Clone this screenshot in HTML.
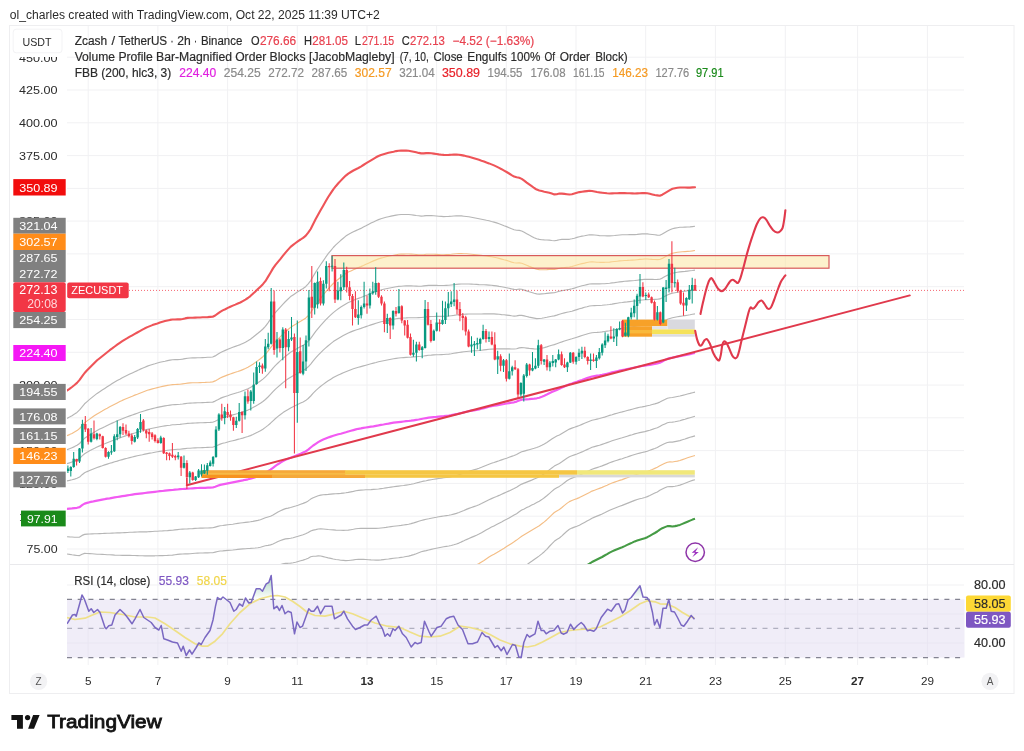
<!DOCTYPE html>
<html><head><meta charset="utf-8"><title>ZECUSDT chart</title><style>html,body{margin:0;padding:0;background:#fff}svg{display:block;will-change:transform}</style></head><body>
<svg width="1024" height="751" viewBox="0 0 1024 751" font-family="Liberation Sans, sans-serif">
<defs><linearGradient id="obg" x1="0" y1="556" x2="0" y2="599.4" gradientUnits="userSpaceOnUse"><stop offset="0" stop-color="#5fae84" stop-opacity="0.95"/><stop offset="1" stop-color="#5fae84" stop-opacity="0"/></linearGradient><clipPath id="cm"><rect x="67" y="26" width="897" height="538"/></clipPath><clipPath id="cr"><rect x="67" y="565" width="897" height="100"/></clipPath></defs>
<rect width="1024" height="751" fill="#fff"/>
<text x="9.8" y="19" font-size="12" fill="#2b2b2b" textLength="370" lengthAdjust="spacingAndGlyphs">ol_charles created with TradingView.com, Oct 22, 2025 11:39 UTC+2</text>
<rect x="9.5" y="25.5" width="1004.5" height="668" fill="#fff" stroke="#eeeef0" stroke-width="1"/>
<path d="M88.2,26V665 M157.9,26V665 M227.6,26V665 M297.3,26V665 M367.0,26V665 M436.6,26V665 M506.3,26V665 M576.0,26V665 M645.7,26V665 M715.4,26V665 M785.3,26V665 M857.6,26V665 M927.4,26V665 M67,57.2H964 M67,90.0H964 M67,122.8H964 M67,155.6H964 M67,188.4H964 M67,221.1H964 M67,253.9H964 M67,286.7H964 M67,319.5H964 M67,352.3H964 M67,385.1H964 M67,417.8H964 M67,450.6H964 M67,483.4H964 M67,516.2H964 M67,549.0H964 M67,585H964 M67,614H964 M67,643H964" stroke="#f1f1f3" stroke-width="1" fill="none"/>
<path d="M10,564.5H1014" stroke="#e9e9ec" stroke-width="1"/>
<g clip-path="url(#cm)">
<path d="M67.0,418.4 L69.5,417.1 L72.0,415.7 L74.5,414.1 L77.0,412.4 L79.6,409.9 L82.1,406.8 L84.6,403.8 L87.1,401.6 L89.6,399.4 L92.1,397.4 L94.6,395.4 L97.1,393.4 L99.7,391.7 L102.2,390.0 L104.7,388.4 L107.2,386.8 L109.7,385.2 L112.2,383.6 L114.7,382.1 L117.2,380.6 L119.8,379.2 L122.3,377.7 L124.8,376.5 L127.3,375.3 L129.8,374.1 L132.3,372.9 L134.8,371.7 L137.3,370.6 L139.8,369.4 L142.4,368.3 L144.9,367.2 L147.4,366.1 L149.9,365.3 L152.4,364.5 L154.9,363.8 L157.4,363.0 L159.9,362.3 L162.5,361.7 L165.0,361.2 L167.5,360.6 L170.0,360.1 L172.5,359.7 L175.0,359.6 L177.5,359.6 L180.0,359.5 L182.6,359.1 L185.1,358.6 L187.6,358.2 L190.1,358.0 L192.6,357.9 L195.1,357.9 L197.6,357.8 L200.1,357.7 L202.6,357.6 L205.2,357.5 L207.7,357.3 L210.2,357.2 L212.7,357.0 L215.2,355.9 L217.7,354.3 L220.2,352.8 L222.7,351.5 L225.3,350.4 L227.8,349.3 L230.3,348.3 L232.8,347.3 L235.3,346.4 L237.8,345.5 L240.3,344.6 L242.8,343.4 L245.4,342.2 L247.9,340.8 L250.4,339.2 L252.9,337.3 L255.4,335.3 L257.9,333.3 L260.4,331.2 L262.9,329.0 L265.4,326.3 L268.0,322.8 L270.5,319.2 L273.0,315.5 L275.5,312.3 L278.0,309.6 L280.5,306.9 L283.0,304.2 L285.5,301.5 L288.1,299.0 L290.6,296.6 L293.1,294.9 L295.6,293.2 L298.1,291.6 L300.6,290.0 L303.1,288.5 L305.6,286.7 L308.2,283.9 L310.7,280.6 L313.2,276.3 L315.7,272.1 L318.2,268.2 L320.7,264.5 L323.2,260.9 L325.7,257.2 L328.2,253.7 L330.8,250.6 L333.3,247.5 L335.8,244.9 L338.3,242.6 L340.8,240.3 L343.3,238.2 L345.8,236.1 L348.3,234.4 L350.9,233.1 L353.4,231.7 L355.9,230.6 L358.4,229.5 L360.9,228.4 L363.4,227.1 L365.9,225.8 L368.4,224.4 L371.0,223.1 L373.5,221.9 L376.0,220.7 L378.5,219.6 L381.0,218.7 L383.5,218.0 L386.0,217.3 L388.5,216.7 L391.0,216.1 L393.6,215.6 L396.1,215.1 L398.6,214.7 L401.1,214.5 L403.6,214.5 L406.1,214.5 L408.6,214.5 L411.1,214.8 L413.7,215.1 L416.2,215.5 L418.7,215.8 L421.2,216.1 L423.7,215.9 L426.2,215.6 L428.7,215.5 L431.2,215.6 L433.8,215.8 L436.3,216.0 L438.8,216.3 L441.3,216.4 L443.8,216.6 L446.3,216.5 L448.8,216.4 L451.3,216.2 L453.8,216.0 L456.4,215.8 L458.9,215.8 L461.4,215.9 L463.9,216.2 L466.4,216.5 L468.9,216.8 L471.4,217.2 L473.9,217.7 L476.5,218.2 L479.0,218.7 L481.5,219.2 L484.0,219.7 L486.5,220.3 L489.0,220.8 L491.5,221.5 L494.0,222.1 L496.6,222.9 L499.1,223.8 L501.6,224.7 L504.1,225.7 L506.6,226.6 L509.1,227.7 L511.6,228.8 L514.1,229.8 L516.6,230.3 L519.2,230.4 L521.7,231.0 L524.2,232.3 L526.7,233.7 L529.2,235.1 L531.7,236.4 L534.2,237.7 L536.7,238.8 L539.3,239.4 L541.8,239.7 L544.3,239.9 L546.8,240.0 L549.3,240.1 L551.8,240.5 L554.3,240.8 L556.8,240.4 L559.4,239.7 L561.9,239.4 L564.4,239.4 L566.9,239.3 L569.4,239.3 L571.9,238.8 L574.4,238.2 L576.9,237.4 L579.4,236.7 L582.0,236.1 L584.5,235.7 L587.0,235.2 L589.5,234.8 L592.0,234.8 L594.5,235.0 L597.0,235.3 L599.5,235.6 L602.1,235.7 L604.6,235.8 L607.1,235.9 L609.6,235.9 L612.1,235.7 L614.6,235.5 L617.1,235.2 L619.6,235.0 L622.2,234.8 L624.7,234.7 L627.2,234.7 L629.7,234.6 L632.2,234.6 L634.7,234.6 L637.2,234.4 L639.7,234.1 L642.2,233.9 L644.8,233.7 L647.3,233.9 L649.8,234.2 L652.3,234.5 L654.8,234.8 L657.3,235.1 L659.8,235.2 L662.3,234.0 L664.9,232.5 L667.4,231.1 L669.9,229.8 L672.4,228.7 L674.9,228.1 L677.4,227.7 L679.9,227.3 L682.4,227.2 L685.0,227.1 L687.5,227.0 L690.0,226.9 L692.5,226.6 L695.0,226.3" stroke="#b6b6b6" stroke-width="1.15" fill="none" stroke-linejoin="round"/>
<path d="M67.0,435.7 L69.5,434.6 L72.0,433.4 L74.5,432.0 L77.0,430.6 L79.6,428.5 L82.1,425.6 L84.6,422.9 L87.1,420.9 L89.6,419.1 L92.1,417.3 L94.6,415.6 L97.1,413.9 L99.7,412.4 L102.2,411.0 L104.7,409.5 L107.2,408.2 L109.7,406.8 L112.2,405.5 L114.7,404.2 L117.2,402.9 L119.8,401.6 L122.3,400.4 L124.8,399.3 L127.3,398.2 L129.8,397.2 L132.3,396.2 L134.8,395.1 L137.3,394.2 L139.8,393.2 L142.4,392.2 L144.9,391.2 L147.4,390.3 L149.9,389.6 L152.4,388.9 L154.9,388.2 L157.4,387.6 L159.9,387.0 L162.5,386.4 L165.0,385.9 L167.5,385.4 L170.0,385.0 L172.5,384.6 L175.0,384.5 L177.5,384.4 L180.0,384.3 L182.6,383.9 L185.1,383.5 L187.6,383.1 L190.1,382.9 L192.6,382.8 L195.1,382.7 L197.6,382.7 L200.1,382.6 L202.6,382.5 L205.2,382.4 L207.7,382.2 L210.2,382.1 L212.7,381.9 L215.2,380.9 L217.7,379.5 L220.2,378.0 L222.7,376.9 L225.3,375.9 L227.8,374.9 L230.3,374.0 L232.8,373.1 L235.3,372.3 L237.8,371.5 L240.3,370.6 L242.8,369.6 L245.4,368.5 L247.9,367.3 L250.4,365.8 L252.9,364.2 L255.4,362.4 L257.9,360.6 L260.4,358.8 L262.9,356.7 L265.4,354.3 L268.0,351.1 L270.5,347.9 L273.0,344.6 L275.5,341.6 L278.0,339.1 L280.5,336.7 L283.0,334.2 L285.5,331.7 L288.1,329.5 L290.6,327.4 L293.1,325.8 L295.6,324.3 L298.1,322.7 L300.6,321.3 L303.1,319.8 L305.6,318.2 L308.2,315.6 L310.7,312.5 L313.2,308.6 L315.7,304.9 L318.2,301.5 L320.7,298.2 L323.2,295.0 L325.7,291.9 L328.2,288.9 L330.8,286.1 L333.3,283.5 L335.8,281.2 L338.3,279.2 L340.8,277.3 L343.3,275.4 L345.8,273.6 L348.3,272.1 L350.9,270.9 L353.4,269.7 L355.9,268.6 L358.4,267.6 L360.9,266.6 L363.4,265.5 L365.9,264.3 L368.4,263.2 L371.0,262.0 L373.5,260.9 L376.0,259.9 L378.5,258.9 L381.0,258.1 L383.5,257.5 L386.0,256.8 L388.5,256.2 L391.0,255.7 L393.6,255.2 L396.1,254.7 L398.6,254.3 L401.1,254.1 L403.6,254.1 L406.1,254.0 L408.6,254.0 L411.1,254.1 L413.7,254.3 L416.2,254.5 L418.7,254.7 L421.2,254.9 L423.7,254.7 L426.2,254.3 L428.7,254.2 L431.2,254.2 L433.8,254.3 L436.3,254.4 L438.8,254.5 L441.3,254.7 L443.8,254.7 L446.3,254.6 L448.8,254.5 L451.3,254.3 L453.8,254.0 L456.4,253.7 L458.9,253.6 L461.4,253.6 L463.9,253.7 L466.4,253.8 L468.9,254.0 L471.4,254.2 L473.9,254.5 L476.5,254.8 L479.0,255.1 L481.5,255.4 L484.0,255.7 L486.5,256.0 L489.0,256.4 L491.5,256.8 L494.0,257.2 L496.6,257.8 L499.1,258.4 L501.6,259.1 L504.1,259.8 L506.6,260.4 L509.1,261.2 L511.6,262.1 L514.1,262.8 L516.6,263.0 L519.2,262.9 L521.7,263.3 L524.2,264.2 L526.7,265.3 L529.2,266.4 L531.7,267.4 L534.2,268.4 L536.7,269.3 L539.3,269.6 L541.8,269.7 L544.3,269.7 L546.8,269.6 L549.3,269.4 L551.8,269.4 L554.3,269.5 L556.8,268.9 L559.4,268.2 L561.9,267.7 L564.4,267.5 L566.9,267.2 L569.4,267.0 L571.9,266.5 L574.4,265.8 L576.9,265.0 L579.4,264.2 L582.0,263.6 L584.5,263.1 L587.0,262.5 L589.5,262.0 L592.0,261.9 L594.5,262.0 L597.0,262.2 L599.5,262.3 L602.1,262.3 L604.6,262.3 L607.1,262.2 L609.6,262.1 L612.1,261.8 L614.6,261.5 L617.1,261.2 L619.6,260.9 L622.2,260.7 L624.7,260.5 L627.2,260.4 L629.7,260.2 L632.2,260.1 L634.7,260.0 L637.2,259.7 L639.7,259.4 L642.2,259.2 L644.8,259.0 L647.3,259.0 L649.8,259.2 L652.3,259.4 L654.8,259.5 L657.3,259.6 L659.8,259.5 L662.3,258.4 L664.9,256.9 L667.4,255.5 L669.9,254.3 L672.4,253.3 L674.9,252.8 L677.4,252.3 L679.9,252.0 L682.4,251.8 L685.0,251.6 L687.5,251.4 L690.0,251.2 L692.5,250.9 L695.0,250.5" stroke="#f4be86" stroke-width="1.15" fill="none" stroke-linejoin="round"/>
<path d="M67.0,449.6 L69.5,448.8 L72.0,447.7 L74.5,446.6 L77.0,445.3 L79.6,443.5 L82.1,440.7 L84.6,438.3 L87.1,436.6 L89.6,435.0 L92.1,433.4 L94.6,431.9 L97.1,430.5 L99.7,429.1 L102.2,427.9 L104.7,426.7 L107.2,425.4 L109.7,424.2 L112.2,423.1 L114.7,422.0 L117.2,420.8 L119.8,419.7 L122.3,418.7 L124.8,417.7 L127.3,416.8 L129.8,415.9 L132.3,415.0 L134.8,414.1 L137.3,413.2 L139.8,412.3 L142.4,411.5 L144.9,410.7 L147.4,409.9 L149.9,409.2 L152.4,408.6 L154.9,408.0 L157.4,407.4 L159.9,406.9 L162.5,406.4 L165.0,405.9 L167.5,405.5 L170.0,405.1 L172.5,404.7 L175.0,404.6 L177.5,404.5 L180.0,404.3 L182.6,404.0 L185.1,403.6 L187.6,403.2 L190.1,403.1 L192.6,403.0 L195.1,402.9 L197.6,402.8 L200.1,402.7 L202.6,402.6 L205.2,402.5 L207.7,402.4 L210.2,402.3 L212.7,402.1 L215.2,401.1 L217.7,399.8 L220.2,398.4 L222.7,397.4 L225.3,396.5 L227.8,395.7 L230.3,394.8 L232.8,394.0 L235.3,393.2 L237.8,392.5 L240.3,391.7 L242.8,390.7 L245.4,389.7 L247.9,388.7 L250.4,387.4 L252.9,385.9 L255.4,384.3 L257.9,382.7 L260.4,381.0 L262.9,379.1 L265.4,376.9 L268.0,374.1 L270.5,371.2 L273.0,368.1 L275.5,365.4 L278.0,363.0 L280.5,360.7 L283.0,358.4 L285.5,356.2 L288.1,354.2 L290.6,352.3 L293.1,350.8 L295.6,349.4 L298.1,347.9 L300.6,346.6 L303.1,345.2 L305.6,343.7 L308.2,341.2 L310.7,338.3 L313.2,334.8 L315.7,331.4 L318.2,328.3 L320.7,325.4 L323.2,322.6 L325.7,319.9 L328.2,317.3 L330.8,314.9 L333.3,312.6 L335.8,310.6 L338.3,308.8 L340.8,307.1 L343.3,305.5 L345.8,303.9 L348.3,302.6 L350.9,301.4 L353.4,300.3 L355.9,299.3 L358.4,298.4 L360.9,297.5 L363.4,296.5 L365.9,295.5 L368.4,294.5 L371.0,293.5 L373.5,292.5 L376.0,291.6 L378.5,290.7 L381.0,290.0 L383.5,289.3 L386.0,288.7 L388.5,288.2 L391.0,287.7 L393.6,287.2 L396.1,286.7 L398.6,286.4 L401.1,286.2 L403.6,286.0 L406.1,285.9 L408.6,285.9 L411.1,285.9 L413.7,286.0 L416.2,286.1 L418.7,286.2 L421.2,286.2 L423.7,285.9 L426.2,285.6 L428.7,285.4 L431.2,285.3 L433.8,285.4 L436.3,285.4 L438.8,285.5 L441.3,285.5 L443.8,285.5 L446.3,285.4 L448.8,285.3 L451.3,285.0 L453.8,284.7 L456.4,284.4 L458.9,284.1 L461.4,284.0 L463.9,284.0 L466.4,284.0 L468.9,284.0 L471.4,284.1 L473.9,284.2 L476.5,284.4 L479.0,284.6 L481.5,284.7 L484.0,284.8 L486.5,284.9 L489.0,285.1 L491.5,285.3 L494.0,285.6 L496.6,285.9 L499.1,286.4 L501.6,286.8 L504.1,287.3 L506.6,287.8 L509.1,288.3 L511.6,288.9 L514.1,289.4 L516.6,289.5 L519.2,289.1 L521.7,289.3 L524.2,290.1 L526.7,290.9 L529.2,291.8 L531.7,292.5 L534.2,293.3 L536.7,293.9 L539.3,294.1 L541.8,293.9 L544.3,293.7 L546.8,293.4 L549.3,293.1 L551.8,292.9 L554.3,292.7 L556.8,292.0 L559.4,291.2 L561.9,290.6 L564.4,290.2 L566.9,289.8 L569.4,289.4 L571.9,288.8 L574.4,288.1 L576.9,287.3 L579.4,286.5 L582.0,285.8 L584.5,285.2 L587.0,284.6 L589.5,284.0 L592.0,283.8 L594.5,283.8 L597.0,283.9 L599.5,283.9 L602.1,283.8 L604.6,283.7 L607.1,283.5 L609.6,283.3 L612.1,282.9 L614.6,282.6 L617.1,282.2 L619.6,281.9 L622.2,281.6 L624.7,281.3 L627.2,281.1 L629.7,280.9 L632.2,280.7 L634.7,280.5 L637.2,280.2 L639.7,279.9 L642.2,279.6 L644.8,279.3 L647.3,279.3 L649.8,279.3 L652.3,279.4 L654.8,279.5 L657.3,279.4 L659.8,279.2 L662.3,278.1 L664.9,276.6 L667.4,275.2 L669.9,274.1 L672.4,273.2 L674.9,272.7 L677.4,272.3 L679.9,271.9 L682.4,271.6 L685.0,271.4 L687.5,271.1 L690.0,270.8 L692.5,270.5 L695.0,270.1" stroke="#b6b6b6" stroke-width="1.15" fill="none" stroke-linejoin="round"/>
<path d="M67.0,463.6 L69.5,462.9 L72.0,462.0 L74.5,461.1 L77.0,460.1 L79.6,458.5 L82.1,455.9 L84.6,453.7 L87.1,452.2 L89.6,450.8 L92.1,449.5 L94.6,448.3 L97.1,447.0 L99.7,445.9 L102.2,444.8 L104.7,443.8 L107.2,442.7 L109.7,441.7 L112.2,440.7 L114.7,439.8 L117.2,438.8 L119.8,437.9 L122.3,437.0 L124.8,436.1 L127.3,435.3 L129.8,434.5 L132.3,433.8 L134.8,433.0 L137.3,432.2 L139.8,431.5 L142.4,430.8 L144.9,430.1 L147.4,429.4 L149.9,428.8 L152.4,428.3 L154.9,427.8 L157.4,427.3 L159.9,426.8 L162.5,426.3 L165.0,425.9 L167.5,425.5 L170.0,425.2 L172.5,424.8 L175.0,424.7 L177.5,424.5 L180.0,424.4 L182.6,424.0 L185.1,423.7 L187.6,423.4 L190.1,423.2 L192.6,423.1 L195.1,423.0 L197.6,422.9 L200.1,422.8 L202.6,422.7 L205.2,422.6 L207.7,422.5 L210.2,422.4 L212.7,422.2 L215.2,421.3 L217.7,420.1 L220.2,418.9 L222.7,417.9 L225.3,417.1 L227.8,416.4 L230.3,415.6 L232.8,414.9 L235.3,414.2 L237.8,413.5 L240.3,412.7 L242.8,411.9 L245.4,411.0 L247.9,410.1 L250.4,408.9 L252.9,407.6 L255.4,406.2 L257.9,404.8 L260.4,403.3 L262.9,401.5 L265.4,399.5 L268.0,397.0 L270.5,394.4 L273.0,391.7 L275.5,389.1 L278.0,386.9 L280.5,384.8 L283.0,382.6 L285.5,380.6 L288.1,378.8 L290.6,377.2 L293.1,375.8 L295.6,374.5 L298.1,373.1 L300.6,371.9 L303.1,370.6 L305.6,369.1 L308.2,366.8 L310.7,364.1 L313.2,360.9 L315.7,357.9 L318.2,355.2 L320.7,352.6 L323.2,350.2 L325.7,347.9 L328.2,345.7 L330.8,343.6 L333.3,341.6 L335.8,340.0 L338.3,338.4 L340.8,337.0 L343.3,335.6 L345.8,334.2 L348.3,333.0 L350.9,331.9 L353.4,330.9 L355.9,330.0 L358.4,329.2 L360.9,328.4 L363.4,327.5 L365.9,326.6 L368.4,325.8 L371.0,324.9 L373.5,324.1 L376.0,323.3 L378.5,322.5 L381.0,321.8 L383.5,321.2 L386.0,320.7 L388.5,320.1 L391.0,319.6 L393.6,319.2 L396.1,318.7 L398.6,318.4 L401.1,318.2 L403.6,318.0 L406.1,317.9 L408.6,317.7 L411.1,317.7 L413.7,317.7 L416.2,317.7 L418.7,317.6 L421.2,317.5 L423.7,317.2 L426.2,316.9 L428.7,316.6 L431.2,316.5 L433.8,316.5 L436.3,316.4 L438.8,316.4 L441.3,316.4 L443.8,316.4 L446.3,316.2 L448.8,316.0 L451.3,315.7 L453.8,315.4 L456.4,315.0 L458.9,314.7 L461.4,314.5 L463.9,314.3 L466.4,314.1 L468.9,314.0 L471.4,314.0 L473.9,314.0 L476.5,314.0 L479.0,314.0 L481.5,314.0 L484.0,313.9 L486.5,313.8 L489.0,313.8 L491.5,313.8 L494.0,313.9 L496.6,314.1 L499.1,314.3 L501.6,314.6 L504.1,314.8 L506.6,315.1 L509.1,315.4 L511.6,315.8 L514.1,316.1 L516.6,315.9 L519.2,315.4 L521.7,315.4 L524.2,315.9 L526.7,316.5 L529.2,317.1 L531.7,317.6 L534.2,318.1 L536.7,318.6 L539.3,318.5 L541.8,318.2 L544.3,317.8 L546.8,317.3 L549.3,316.7 L551.8,316.3 L554.3,315.9 L556.8,315.1 L559.4,314.2 L561.9,313.5 L564.4,312.9 L566.9,312.3 L569.4,311.8 L571.9,311.2 L574.4,310.4 L576.9,309.6 L579.4,308.8 L582.0,308.1 L584.5,307.3 L587.0,306.7 L589.5,306.0 L592.0,305.7 L594.5,305.6 L597.0,305.5 L599.5,305.5 L602.1,305.3 L604.6,305.0 L607.1,304.8 L609.6,304.5 L612.1,304.1 L614.6,303.6 L617.1,303.2 L619.6,302.8 L622.2,302.5 L624.7,302.1 L627.2,301.9 L629.7,301.6 L632.2,301.3 L634.7,301.0 L637.2,300.7 L639.7,300.3 L642.2,300.0 L644.8,299.7 L647.3,299.6 L649.8,299.5 L652.3,299.5 L654.8,299.4 L657.3,299.3 L659.8,298.9 L662.3,297.7 L664.9,296.3 L667.4,295.0 L669.9,293.9 L672.4,293.2 L674.9,292.7 L677.4,292.2 L679.9,291.8 L682.4,291.5 L685.0,291.1 L687.5,290.8 L690.0,290.5 L692.5,290.1 L695.0,289.7" stroke="#b6b6b6" stroke-width="1.15" fill="none" stroke-linejoin="round"/>
<path d="M67.0,480.9 L69.5,480.4 L72.0,479.8 L74.5,479.1 L77.0,478.3 L79.6,477.1 L82.1,474.7 L84.6,472.8 L87.1,471.6 L89.6,470.5 L92.1,469.5 L94.6,468.5 L97.1,467.5 L99.7,466.6 L102.2,465.8 L104.7,464.9 L107.2,464.1 L109.7,463.3 L112.2,462.6 L114.7,461.8 L117.2,461.1 L119.8,460.3 L122.3,459.6 L124.8,458.9 L127.3,458.3 L129.8,457.6 L132.3,457.0 L134.8,456.4 L137.3,455.8 L139.8,455.2 L142.4,454.7 L144.9,454.1 L147.4,453.6 L149.9,453.1 L152.4,452.7 L154.9,452.2 L157.4,451.8 L159.9,451.4 L162.5,451.0 L165.0,450.7 L167.5,450.3 L170.0,450.0 L172.5,449.7 L175.0,449.5 L177.5,449.3 L180.0,449.2 L182.6,448.9 L185.1,448.6 L187.6,448.3 L190.1,448.2 L192.6,448.0 L195.1,447.9 L197.6,447.8 L200.1,447.7 L202.6,447.6 L205.2,447.5 L207.7,447.4 L210.2,447.3 L212.7,447.2 L215.2,446.3 L217.7,445.2 L220.2,444.1 L222.7,443.3 L225.3,442.7 L227.8,442.0 L230.3,441.3 L232.8,440.7 L235.3,440.1 L237.8,439.4 L240.3,438.8 L242.8,438.1 L245.4,437.3 L247.9,436.5 L250.4,435.6 L252.9,434.5 L255.4,433.3 L257.9,432.1 L260.4,430.8 L262.9,429.2 L265.4,427.4 L268.0,425.4 L270.5,423.2 L273.0,420.8 L275.5,418.5 L278.0,416.4 L280.5,414.5 L283.0,412.6 L285.5,410.9 L288.1,409.4 L290.6,407.9 L293.1,406.7 L295.6,405.5 L298.1,404.3 L300.6,403.1 L303.1,401.9 L305.6,400.6 L308.2,398.5 L310.7,396.0 L313.2,393.2 L315.7,390.7 L318.2,388.4 L320.7,386.3 L323.2,384.4 L325.7,382.5 L328.2,380.8 L330.8,379.2 L333.3,377.6 L335.8,376.3 L338.3,375.1 L340.8,373.9 L343.3,372.8 L345.8,371.7 L348.3,370.7 L350.9,369.7 L353.4,368.8 L355.9,368.0 L358.4,367.3 L360.9,366.6 L363.4,365.9 L365.9,365.2 L368.4,364.5 L371.0,363.8 L373.5,363.1 L376.0,362.5 L378.5,361.8 L381.0,361.2 L383.5,360.7 L386.0,360.2 L388.5,359.7 L391.0,359.2 L393.6,358.8 L396.1,358.4 L398.6,358.0 L401.1,357.8 L403.6,357.6 L406.1,357.4 L408.6,357.2 L411.1,357.1 L413.7,356.9 L416.2,356.8 L418.7,356.5 L421.2,356.3 L423.7,356.0 L426.2,355.6 L428.7,355.2 L431.2,355.1 L433.8,354.9 L436.3,354.8 L438.8,354.7 L441.3,354.6 L443.8,354.5 L446.3,354.3 L448.8,354.1 L451.3,353.8 L453.8,353.3 L456.4,352.9 L458.9,352.5 L461.4,352.1 L463.9,351.8 L466.4,351.5 L468.9,351.2 L471.4,351.0 L473.9,350.8 L476.5,350.7 L479.0,350.5 L481.5,350.2 L484.0,349.9 L486.5,349.6 L489.0,349.3 L491.5,349.1 L494.0,349.0 L496.6,348.9 L499.1,348.9 L501.6,348.9 L504.1,348.9 L506.6,348.9 L509.1,348.9 L511.6,349.0 L514.1,349.0 L516.6,348.7 L519.2,347.9 L521.7,347.6 L524.2,347.8 L526.7,348.1 L529.2,348.4 L531.7,348.6 L534.2,348.9 L536.7,349.0 L539.3,348.8 L541.8,348.2 L544.3,347.6 L546.8,346.9 L549.3,346.0 L551.8,345.3 L554.3,344.6 L556.8,343.7 L559.4,342.7 L561.9,341.9 L564.4,341.0 L566.9,340.2 L569.4,339.5 L571.9,338.8 L574.4,338.0 L576.9,337.2 L579.4,336.4 L582.0,335.5 L584.5,334.7 L587.0,334.0 L589.5,333.3 L592.0,332.7 L594.5,332.5 L597.0,332.4 L599.5,332.2 L602.1,331.9 L604.6,331.5 L607.1,331.1 L609.6,330.7 L612.1,330.2 L614.6,329.7 L617.1,329.2 L619.6,328.7 L622.2,328.3 L624.7,327.9 L627.2,327.5 L629.7,327.2 L632.2,326.8 L634.7,326.4 L637.2,326.0 L639.7,325.6 L642.2,325.2 L644.8,324.9 L647.3,324.7 L649.8,324.5 L652.3,324.3 L654.8,324.1 L657.3,323.8 L659.8,323.3 L662.3,322.1 L664.9,320.7 L667.4,319.4 L669.9,318.5 L672.4,317.8 L674.9,317.3 L677.4,316.8 L679.9,316.4 L682.4,316.0 L685.0,315.6 L687.5,315.2 L690.0,314.8 L692.5,314.3 L695.0,313.9" stroke="#b6b6b6" stroke-width="1.15" fill="none" stroke-linejoin="round"/>
<path d="M67.0,536.7 L69.5,536.9 L72.0,537.0 L74.5,537.2 L77.0,537.2 L79.6,537.1 L82.1,535.4 L84.6,534.4 L87.1,534.1 L89.6,534.0 L92.1,533.9 L94.6,533.8 L97.1,533.7 L99.7,533.6 L102.2,533.5 L104.7,533.4 L107.2,533.3 L109.7,533.2 L112.2,533.1 L114.7,533.0 L117.2,532.9 L119.8,532.9 L122.3,532.8 L124.8,532.6 L127.3,532.5 L129.8,532.3 L132.3,532.2 L134.8,532.1 L137.3,532.0 L139.8,531.9 L142.4,531.9 L144.9,531.8 L147.4,531.8 L149.9,531.6 L152.4,531.5 L154.9,531.3 L157.4,531.2 L159.9,531.0 L162.5,530.9 L165.0,530.7 L167.5,530.6 L170.0,530.4 L172.5,530.2 L175.0,529.9 L177.5,529.6 L180.0,529.3 L182.6,529.1 L185.1,529.0 L187.6,528.9 L190.1,528.7 L192.6,528.6 L195.1,528.4 L197.6,528.2 L200.1,528.1 L202.6,528.1 L205.2,528.0 L207.7,528.0 L210.2,527.9 L212.7,527.8 L215.2,527.1 L217.7,526.4 L220.2,525.8 L222.7,525.5 L225.3,525.1 L227.8,524.8 L230.3,524.5 L232.8,524.2 L235.3,523.8 L237.8,523.4 L240.3,523.0 L242.8,522.7 L245.4,522.4 L247.9,522.1 L250.4,521.8 L252.9,521.4 L255.4,520.9 L257.9,520.4 L260.4,519.8 L262.9,518.8 L265.4,517.8 L268.0,517.0 L270.5,516.2 L273.0,514.9 L275.5,513.4 L278.0,511.9 L280.5,510.7 L283.0,509.6 L285.5,508.6 L288.1,508.1 L290.6,507.5 L293.1,506.7 L295.6,506.0 L298.1,505.2 L300.6,504.3 L303.1,503.4 L305.6,502.4 L308.2,500.9 L310.7,499.1 L313.2,497.8 L315.7,496.8 L318.2,495.8 L320.7,495.1 L323.2,494.8 L325.7,494.6 L328.2,494.4 L330.8,494.1 L333.3,493.9 L335.8,493.8 L338.3,493.6 L340.8,493.4 L343.3,493.1 L345.8,492.8 L348.3,492.4 L350.9,491.9 L353.4,491.4 L355.9,490.8 L358.4,490.4 L360.9,490.1 L363.4,490.0 L365.9,489.8 L368.4,489.7 L371.0,489.6 L373.5,489.4 L376.0,489.2 L378.5,489.0 L381.0,488.6 L383.5,488.3 L386.0,487.9 L388.5,487.5 L391.0,487.1 L393.6,486.7 L396.1,486.4 L398.6,486.1 L401.1,485.8 L403.6,485.5 L406.1,485.1 L408.6,484.7 L411.1,484.3 L413.7,483.7 L416.2,483.0 L418.7,482.4 L421.2,481.7 L423.7,481.1 L426.2,480.7 L428.7,480.1 L431.2,479.7 L433.8,479.3 L436.3,478.9 L438.8,478.5 L441.3,478.2 L443.8,477.8 L446.3,477.5 L448.8,477.2 L451.3,476.7 L453.8,476.1 L456.4,475.5 L458.9,474.7 L461.4,473.9 L463.9,473.0 L466.4,472.1 L468.9,471.3 L471.4,470.5 L473.9,469.8 L476.5,469.1 L479.0,468.3 L481.5,467.3 L484.0,466.2 L486.5,465.2 L489.0,464.2 L491.5,463.3 L494.0,462.5 L496.6,461.6 L499.1,460.8 L501.6,459.9 L504.1,459.0 L506.6,458.2 L509.1,457.3 L511.6,456.4 L514.1,455.5 L516.6,454.5 L519.2,453.0 L521.7,451.8 L524.2,451.1 L526.7,450.4 L529.2,449.7 L531.7,449.0 L534.2,448.3 L536.7,447.5 L539.3,446.5 L541.8,445.3 L544.3,443.9 L546.8,442.4 L549.3,440.7 L551.8,439.0 L554.3,437.4 L556.8,436.1 L559.4,434.9 L561.9,433.4 L564.4,431.9 L566.9,430.4 L569.4,429.1 L571.9,428.1 L574.4,427.3 L576.9,426.4 L579.4,425.5 L582.0,424.4 L584.5,423.3 L587.0,422.3 L589.5,421.3 L592.0,420.3 L594.5,419.7 L597.0,419.1 L599.5,418.5 L602.1,417.8 L604.6,417.1 L607.1,416.2 L609.6,415.4 L612.1,414.7 L614.6,413.9 L617.1,413.2 L619.6,412.5 L622.2,411.9 L624.7,411.2 L627.2,410.5 L629.7,409.9 L632.2,409.2 L634.7,408.5 L637.2,407.9 L639.7,407.3 L642.2,406.9 L644.8,406.4 L647.3,405.8 L649.8,405.2 L652.3,404.5 L654.8,403.9 L657.3,403.1 L659.8,402.1 L662.3,400.8 L664.9,399.5 L667.4,398.3 L669.9,397.8 L672.4,397.5 L674.9,397.0 L677.4,396.5 L679.9,396.0 L682.4,395.4 L685.0,394.7 L687.5,394.0 L690.0,393.4 L692.5,392.7 L695.0,392.1" stroke="#b6b6b6" stroke-width="1.15" fill="none" stroke-linejoin="round"/>
<path d="M67.0,554.0 L69.5,554.4 L72.0,554.8 L74.5,555.1 L77.0,555.5 L79.6,555.6 L82.1,554.2 L84.6,553.4 L87.1,553.5 L89.6,553.6 L92.1,553.8 L94.6,554.0 L97.1,554.2 L99.7,554.3 L102.2,554.4 L104.7,554.5 L107.2,554.7 L109.7,554.8 L112.2,554.9 L114.7,555.1 L117.2,555.2 L119.8,555.3 L122.3,555.4 L124.8,555.4 L127.3,555.4 L129.8,555.4 L132.3,555.5 L134.8,555.5 L137.3,555.6 L139.8,555.7 L142.4,555.8 L144.9,555.9 L147.4,555.9 L149.9,555.9 L152.4,555.8 L154.9,555.8 L157.4,555.7 L159.9,555.6 L162.5,555.6 L165.0,555.5 L167.5,555.4 L170.0,555.2 L172.5,555.1 L175.0,554.7 L177.5,554.4 L180.0,554.1 L182.6,554.0 L185.1,553.9 L187.6,553.9 L190.1,553.7 L192.6,553.5 L195.1,553.3 L197.6,553.1 L200.1,553.0 L202.6,553.0 L205.2,552.9 L207.7,552.9 L210.2,552.8 L212.7,552.7 L215.2,552.1 L217.7,551.5 L220.2,551.0 L222.7,550.9 L225.3,550.6 L227.8,550.4 L230.3,550.2 L232.8,550.0 L235.3,549.7 L237.8,549.4 L240.3,549.1 L242.8,548.9 L245.4,548.7 L247.9,548.5 L250.4,548.4 L252.9,548.2 L255.4,548.0 L257.9,547.7 L260.4,547.3 L262.9,546.5 L265.4,545.8 L268.0,545.4 L270.5,544.9 L273.0,544.0 L275.5,542.8 L278.0,541.5 L280.5,540.5 L283.0,539.6 L285.5,538.9 L288.1,538.6 L290.6,538.3 L293.1,537.7 L295.6,537.0 L298.1,536.3 L300.6,535.5 L303.1,534.7 L305.6,533.8 L308.2,532.6 L310.7,531.0 L313.2,530.1 L315.7,529.6 L318.2,529.0 L320.7,528.8 L323.2,529.0 L325.7,529.2 L328.2,529.5 L330.8,529.7 L333.3,529.9 L335.8,530.1 L338.3,530.2 L340.8,530.3 L343.3,530.4 L345.8,530.3 L348.3,530.1 L350.9,529.7 L353.4,529.3 L355.9,528.8 L358.4,528.5 L360.9,528.4 L363.4,528.4 L365.9,528.4 L368.4,528.4 L371.0,528.4 L373.5,528.4 L376.0,528.4 L378.5,528.3 L381.0,528.0 L383.5,527.7 L386.0,527.4 L388.5,527.0 L391.0,526.6 L393.6,526.3 L396.1,526.0 L398.6,525.7 L401.1,525.4 L403.6,525.0 L406.1,524.6 L408.6,524.2 L411.1,523.6 L413.7,522.9 L416.2,522.1 L418.7,521.3 L421.2,520.5 L423.7,519.9 L426.2,519.3 L428.7,518.8 L431.2,518.2 L433.8,517.7 L436.3,517.3 L438.8,516.8 L441.3,516.4 L443.8,516.0 L446.3,515.6 L448.8,515.3 L451.3,514.8 L453.8,514.1 L456.4,513.4 L458.9,512.5 L461.4,511.5 L463.9,510.5 L466.4,509.4 L468.9,508.4 L471.4,507.5 L473.9,506.6 L476.5,505.7 L479.0,504.7 L481.5,503.5 L484.0,502.2 L486.5,500.9 L489.0,499.7 L491.5,498.6 L494.0,497.5 L496.6,496.5 L499.1,495.4 L501.6,494.2 L504.1,493.1 L506.6,492.0 L509.1,490.9 L511.6,489.7 L514.1,488.5 L516.6,487.2 L519.2,485.5 L521.7,484.1 L524.2,483.1 L526.7,482.1 L529.2,481.1 L531.7,480.1 L534.2,479.0 L536.7,478.0 L539.3,476.8 L541.8,475.3 L544.3,473.7 L546.8,471.9 L549.3,469.9 L551.8,468.0 L554.3,466.1 L556.8,464.7 L559.4,463.4 L561.9,461.8 L564.4,460.0 L566.9,458.3 L569.4,456.8 L571.9,455.8 L574.4,454.9 L576.9,454.0 L579.4,453.0 L582.0,451.9 L584.5,450.7 L587.0,449.6 L589.5,448.5 L592.0,447.3 L594.5,446.6 L597.0,445.9 L599.5,445.3 L602.1,444.4 L604.6,443.5 L607.1,442.6 L609.6,441.7 L612.1,440.8 L614.6,440.0 L617.1,439.2 L619.6,438.5 L622.2,437.8 L624.7,437.0 L627.2,436.2 L629.7,435.4 L632.2,434.7 L634.7,433.9 L637.2,433.2 L639.7,432.6 L642.2,432.1 L644.8,431.6 L647.3,430.9 L649.8,430.2 L652.3,429.4 L654.8,428.5 L657.3,427.7 L659.8,426.4 L662.3,425.1 L664.9,423.9 L667.4,422.8 L669.9,422.3 L672.4,422.1 L674.9,421.7 L677.4,421.2 L679.9,420.7 L682.4,419.9 L685.0,419.2 L687.5,418.4 L690.0,417.7 L692.5,417.0 L695.0,416.3" stroke="#b6b6b6" stroke-width="1.15" fill="none" stroke-linejoin="round"/>
<path d="M67.0,568.0 L69.5,568.5 L72.0,569.1 L74.5,569.7 L77.0,570.2 L79.6,570.6 L82.1,569.4 L84.6,568.8 L87.1,569.1 L89.6,569.5 L92.1,569.9 L94.6,570.3 L97.1,570.7 L99.7,571.0 L102.2,571.3 L104.7,571.6 L107.2,572.0 L109.7,572.3 L112.2,572.6 L114.7,572.9 L117.2,573.2 L119.8,573.4 L122.3,573.7 L124.8,573.9 L127.3,574.0 L129.8,574.1 L132.3,574.2 L134.8,574.4 L137.3,574.6 L139.8,574.8 L142.4,575.1 L144.9,575.3 L147.4,575.5 L149.9,575.5 L152.4,575.5 L154.9,575.6 L157.4,575.6 L159.9,575.6 L162.5,575.5 L165.0,575.5 L167.5,575.4 L170.0,575.3 L172.5,575.2 L175.0,574.8 L177.5,574.5 L180.0,574.2 L182.6,574.0 L185.1,574.0 L187.6,574.0 L190.1,573.8 L192.6,573.6 L195.1,573.4 L197.6,573.2 L200.1,573.1 L202.6,573.1 L205.2,573.0 L207.7,573.0 L210.2,573.0 L212.7,572.8 L215.2,572.3 L217.7,571.8 L220.2,571.5 L222.7,571.4 L225.3,571.3 L227.8,571.1 L230.3,571.0 L232.8,570.9 L235.3,570.6 L237.8,570.4 L240.3,570.1 L242.8,570.0 L245.4,570.0 L247.9,569.9 L250.4,570.0 L252.9,570.0 L255.4,569.9 L257.9,569.8 L260.4,569.6 L262.9,568.9 L265.4,568.4 L268.0,568.3 L270.5,568.2 L273.0,567.6 L275.5,566.5 L278.0,565.3 L280.5,564.5 L283.0,563.8 L285.5,563.3 L288.1,563.3 L290.6,563.1 L293.1,562.7 L295.6,562.2 L298.1,561.5 L300.6,560.8 L303.1,560.1 L305.6,559.3 L308.2,558.2 L310.7,556.8 L313.2,556.3 L315.7,556.2 L318.2,555.9 L320.7,556.0 L323.2,556.6 L325.7,557.2 L328.2,557.9 L330.8,558.4 L333.3,559.0 L335.8,559.5 L338.3,559.8 L340.8,560.2 L343.3,560.4 L345.8,560.6 L348.3,560.5 L350.9,560.2 L353.4,559.9 L355.9,559.5 L358.4,559.3 L360.9,559.3 L363.4,559.4 L365.9,559.5 L368.4,559.7 L371.0,559.9 L373.5,560.0 L376.0,560.1 L378.5,560.1 L381.0,559.9 L383.5,559.6 L386.0,559.3 L388.5,559.0 L391.0,558.6 L393.6,558.3 L396.1,558.0 L398.6,557.8 L401.1,557.4 L403.6,557.0 L406.1,556.5 L408.6,556.1 L411.1,555.4 L413.7,554.6 L416.2,553.7 L418.7,552.7 L421.2,551.8 L423.7,551.1 L426.2,550.6 L428.7,550.0 L431.2,549.4 L433.8,548.8 L436.3,548.3 L438.8,547.8 L441.3,547.3 L443.8,546.8 L446.3,546.4 L448.8,546.0 L451.3,545.5 L453.8,544.8 L456.4,544.0 L458.9,543.1 L461.4,541.9 L463.9,540.8 L466.4,539.6 L468.9,538.5 L471.4,537.4 L473.9,536.4 L476.5,535.3 L479.0,534.1 L481.5,532.8 L484.0,531.3 L486.5,529.8 L489.0,528.4 L491.5,527.1 L494.0,525.9 L496.6,524.6 L499.1,523.3 L501.6,522.0 L504.1,520.6 L506.6,519.3 L509.1,517.9 L511.6,516.5 L514.1,515.1 L516.6,513.7 L519.2,511.8 L521.7,510.1 L524.2,508.9 L526.7,507.6 L529.2,506.4 L531.7,505.1 L534.2,503.9 L536.7,502.6 L539.3,501.2 L541.8,499.6 L544.3,497.8 L546.8,495.8 L549.3,493.6 L551.8,491.4 L554.3,489.3 L556.8,487.8 L559.4,486.4 L561.9,484.6 L564.4,482.7 L566.9,480.8 L569.4,479.2 L571.9,478.1 L574.4,477.2 L576.9,476.3 L579.4,475.3 L582.0,474.1 L584.5,472.9 L587.0,471.6 L589.5,470.5 L592.0,469.2 L594.5,468.4 L597.0,467.6 L599.5,466.8 L602.1,465.9 L604.6,464.9 L607.1,463.9 L609.6,462.8 L612.1,461.9 L614.6,461.0 L617.1,460.2 L619.6,459.4 L622.2,458.7 L624.7,457.8 L627.2,457.0 L629.7,456.1 L632.2,455.3 L634.7,454.5 L637.2,453.7 L639.7,453.1 L642.2,452.5 L644.8,451.9 L647.3,451.2 L649.8,450.3 L652.3,449.4 L654.8,448.5 L657.3,447.5 L659.8,446.1 L662.3,444.8 L664.9,443.6 L667.4,442.5 L669.9,442.1 L672.4,442.1 L674.9,441.6 L677.4,441.1 L679.9,440.6 L682.4,439.8 L685.0,439.0 L687.5,438.1 L690.0,437.3 L692.5,436.6 L695.0,435.9" stroke="#b6b6b6" stroke-width="1.15" fill="none" stroke-linejoin="round"/>
<path d="M67.0,581.9 L69.5,582.6 L72.0,583.4 L74.5,584.2 L77.0,584.9 L79.6,585.6 L82.1,584.5 L84.6,584.2 L87.1,584.8 L89.6,585.4 L92.1,586.0 L94.6,586.7 L97.1,587.2 L99.7,587.8 L102.2,588.3 L104.7,588.8 L107.2,589.2 L109.7,589.7 L112.2,590.2 L114.7,590.7 L117.2,591.1 L119.8,591.6 L122.3,592.0 L124.8,592.3 L127.3,592.5 L129.8,592.8 L132.3,593.0 L134.8,593.3 L137.3,593.6 L139.8,594.0 L142.4,594.4 L144.9,594.7 L147.4,595.0 L149.9,595.1 L152.4,595.2 L154.9,595.3 L157.4,595.4 L159.9,595.5 L162.5,595.5 L165.0,595.5 L167.5,595.5 L170.0,595.4 L172.5,595.3 L175.0,594.9 L177.5,594.6 L180.0,594.2 L182.6,594.1 L185.1,594.1 L187.6,594.2 L190.1,594.0 L192.6,593.7 L195.1,593.5 L197.6,593.3 L200.1,593.2 L202.6,593.2 L205.2,593.2 L207.7,593.1 L210.2,593.1 L212.7,593.0 L215.2,592.6 L217.7,592.1 L220.2,591.9 L222.7,591.9 L225.3,591.9 L227.8,591.9 L230.3,591.8 L232.8,591.7 L235.3,591.6 L237.8,591.3 L240.3,591.2 L242.8,591.2 L245.4,591.2 L247.9,591.3 L250.4,591.5 L252.9,591.7 L255.4,591.8 L257.9,591.9 L260.4,591.8 L262.9,591.3 L265.4,591.0 L268.0,591.3 L270.5,591.4 L273.0,591.1 L275.5,590.3 L278.0,589.2 L280.5,588.5 L283.0,588.1 L285.5,587.8 L288.1,587.9 L290.6,588.0 L293.1,587.7 L295.6,587.3 L298.1,586.7 L300.6,586.1 L303.1,585.4 L305.6,584.7 L308.2,583.8 L310.7,582.6 L313.2,582.4 L315.7,582.7 L318.2,582.8 L320.7,583.2 L323.2,584.2 L325.7,585.2 L328.2,586.3 L330.8,587.2 L333.3,588.0 L335.8,588.8 L338.3,589.5 L340.8,590.0 L343.3,590.5 L345.8,590.9 L348.3,591.0 L350.9,590.8 L353.4,590.5 L355.9,590.2 L358.4,590.0 L360.9,590.1 L363.4,590.4 L365.9,590.7 L368.4,591.0 L371.0,591.3 L373.5,591.6 L376.0,591.8 L378.5,591.9 L381.0,591.7 L383.5,591.5 L386.0,591.2 L388.5,590.9 L391.0,590.6 L393.6,590.3 L396.1,590.0 L398.6,589.8 L401.1,589.4 L403.6,589.0 L406.1,588.5 L408.6,587.9 L411.1,587.2 L413.7,586.3 L416.2,585.3 L418.7,584.2 L421.2,583.1 L423.7,582.4 L426.2,581.9 L428.7,581.2 L431.2,580.5 L433.8,579.9 L436.3,579.3 L438.8,578.7 L441.3,578.1 L443.8,577.6 L446.3,577.2 L448.8,576.8 L451.3,576.2 L453.8,575.5 L456.4,574.6 L458.9,573.6 L461.4,572.4 L463.9,571.1 L466.4,569.8 L468.9,568.5 L471.4,567.3 L473.9,566.1 L476.5,564.9 L479.0,563.6 L481.5,562.0 L484.0,560.4 L486.5,558.7 L489.0,557.1 L491.5,555.6 L494.0,554.3 L496.6,552.8 L499.1,551.3 L501.6,549.7 L504.1,548.2 L506.6,546.6 L509.1,545.0 L511.6,543.4 L514.1,541.8 L516.6,540.1 L519.2,538.1 L521.7,536.2 L524.2,534.7 L526.7,533.2 L529.2,531.7 L531.7,530.2 L534.2,528.7 L536.7,527.3 L539.3,525.7 L541.8,523.8 L544.3,521.9 L546.8,519.7 L549.3,517.3 L551.8,514.8 L554.3,512.5 L556.8,510.9 L559.4,509.5 L561.9,507.5 L564.4,505.4 L566.9,503.4 L569.4,501.6 L571.9,500.5 L574.4,499.5 L576.9,498.6 L579.4,497.6 L582.0,496.3 L584.5,495.0 L587.0,493.7 L589.5,492.5 L592.0,491.1 L594.5,490.2 L597.0,489.3 L599.5,488.4 L602.1,487.4 L604.6,486.3 L607.1,485.2 L609.6,484.0 L612.1,483.0 L614.6,482.1 L617.1,481.2 L619.6,480.4 L622.2,479.6 L624.7,478.6 L627.2,477.7 L629.7,476.8 L632.2,475.9 L634.7,475.0 L637.2,474.2 L639.7,473.5 L642.2,472.9 L644.8,472.3 L647.3,471.5 L649.8,470.5 L652.3,469.5 L654.8,468.4 L657.3,467.3 L659.8,465.8 L662.3,464.5 L664.9,463.3 L667.4,462.2 L669.9,461.9 L672.4,462.0 L674.9,461.5 L677.4,461.1 L679.9,460.5 L682.4,459.6 L685.0,458.7 L687.5,457.8 L690.0,457.0 L692.5,456.2 L695.0,455.5" stroke="#f4be86" stroke-width="1.15" fill="none" stroke-linejoin="round"/>
<path d="M67.0,599.2 L69.5,600.1 L72.0,601.1 L74.5,602.2 L77.0,603.2 L79.6,604.2 L82.1,603.3 L84.6,603.3 L87.1,604.1 L89.6,605.0 L92.1,605.9 L94.6,606.9 L97.1,607.7 L99.7,608.5 L102.2,609.2 L104.7,609.9 L107.2,610.6 L109.7,611.3 L112.2,612.0 L114.7,612.7 L117.2,613.4 L119.8,614.0 L122.3,614.6 L124.8,615.1 L127.3,615.5 L129.8,615.9 L132.3,616.3 L134.8,616.7 L137.3,617.2 L139.8,617.7 L142.4,618.3 L144.9,618.7 L147.4,619.2 L149.9,619.4 L152.4,619.6 L154.9,619.8 L157.4,620.0 L159.9,620.1 L162.5,620.2 L165.0,620.2 L167.5,620.3 L170.0,620.3 L172.5,620.2 L175.0,619.8 L177.5,619.4 L180.0,619.0 L182.6,618.9 L185.1,619.0 L187.6,619.1 L190.1,618.9 L192.6,618.6 L195.1,618.4 L197.6,618.2 L200.1,618.1 L202.6,618.1 L205.2,618.1 L207.7,618.0 L210.2,618.0 L212.7,617.9 L215.2,617.6 L217.7,617.2 L220.2,617.1 L222.7,617.3 L225.3,617.4 L227.8,617.5 L230.3,617.6 L232.8,617.6 L235.3,617.4 L237.8,617.3 L240.3,617.2 L242.8,617.4 L245.4,617.5 L247.9,617.8 L250.4,618.2 L252.9,618.6 L255.4,618.9 L257.9,619.2 L260.4,619.4 L262.9,619.0 L265.4,618.9 L268.0,619.6 L270.5,620.2 L273.0,620.2 L275.5,619.6 L278.0,618.8 L280.5,618.3 L283.0,618.0 L285.5,618.0 L288.1,618.5 L290.6,618.8 L293.1,618.6 L295.6,618.3 L298.1,617.9 L300.6,617.4 L303.1,616.8 L305.6,616.2 L308.2,615.5 L310.7,614.5 L313.2,614.8 L315.7,615.5 L318.2,616.0 L320.7,616.8 L323.2,618.3 L325.7,619.9 L328.2,621.4 L330.8,622.7 L333.3,624.0 L335.8,625.2 L338.3,626.1 L340.8,627.0 L343.3,627.7 L345.8,628.4 L348.3,628.6 L350.9,628.6 L353.4,628.4 L355.9,628.2 L358.4,628.1 L360.9,628.4 L363.4,628.8 L365.9,629.3 L368.4,629.7 L371.0,630.2 L373.5,630.6 L376.0,631.0 L378.5,631.2 L381.0,631.1 L383.5,631.0 L386.0,630.7 L388.5,630.4 L391.0,630.1 L393.6,629.8 L396.1,629.6 L398.6,629.4 L401.1,629.0 L403.6,628.5 L406.1,628.0 L408.6,627.4 L411.1,626.5 L413.7,625.5 L416.2,624.3 L418.7,623.1 L421.2,621.9 L423.7,621.2 L426.2,620.6 L428.7,619.9 L431.2,619.1 L433.8,618.4 L436.3,617.7 L438.8,617.0 L441.3,616.4 L443.8,615.7 L446.3,615.3 L448.8,614.9 L451.3,614.3 L453.8,613.5 L456.4,612.5 L458.9,611.4 L461.4,610.0 L463.9,608.6 L466.4,607.1 L468.9,605.6 L471.4,604.3 L473.9,602.9 L476.5,601.6 L479.0,600.0 L481.5,598.3 L484.0,596.4 L486.5,594.5 L489.0,592.6 L491.5,590.9 L494.0,589.3 L496.6,587.7 L499.1,585.9 L501.6,584.1 L504.1,582.2 L506.6,580.4 L509.1,578.6 L511.6,576.6 L514.1,574.7 L516.6,572.9 L519.2,570.6 L521.7,568.4 L524.2,566.7 L526.7,564.9 L529.2,563.0 L531.7,561.3 L534.2,559.5 L536.7,557.7 L539.3,555.9 L541.8,553.9 L544.3,551.7 L546.8,549.3 L549.3,546.5 L551.8,543.8 L554.3,541.3 L556.8,539.5 L559.4,538.0 L561.9,535.9 L564.4,533.5 L566.9,531.3 L569.4,529.3 L571.9,528.1 L574.4,527.1 L576.9,526.2 L579.4,525.2 L582.0,523.8 L584.5,522.4 L587.0,521.0 L589.5,519.7 L592.0,518.2 L594.5,517.1 L597.0,516.1 L599.5,515.1 L602.1,514.0 L604.6,512.8 L607.1,511.5 L609.6,510.2 L612.1,509.2 L614.6,508.2 L617.1,507.2 L619.6,506.3 L622.2,505.4 L624.7,504.4 L627.2,503.4 L629.7,502.4 L632.2,501.4 L634.7,500.4 L637.2,499.5 L639.7,498.8 L642.2,498.2 L644.8,497.5 L647.3,496.6 L649.8,495.5 L652.3,494.3 L654.8,493.1 L657.3,491.9 L659.8,490.2 L662.3,488.9 L664.9,487.7 L667.4,486.7 L669.9,486.5 L672.4,486.6 L674.9,486.2 L677.4,485.7 L679.9,485.1 L682.4,484.2 L685.0,483.2 L687.5,482.2 L690.0,481.3 L692.5,480.4 L695.0,479.7" stroke="#b6b6b6" stroke-width="1.15" fill="none" stroke-linejoin="round"/>
<path d="M67.0,627.1 L69.5,628.4 L72.0,629.8 L74.5,631.2 L77.0,632.6 L79.6,634.2 L82.1,633.7 L84.6,634.1 L87.1,635.4 L89.6,636.8 L92.1,638.2 L94.6,639.5 L97.1,640.8 L99.7,642.0 L102.2,643.1 L104.7,644.1 L107.2,645.2 L109.7,646.3 L112.2,647.3 L114.7,648.3 L117.2,649.3 L119.8,650.3 L122.3,651.2 L124.8,651.9 L127.3,652.6 L129.8,653.2 L132.3,653.9 L134.8,654.6 L137.3,655.3 L139.8,656.1 L142.4,656.9 L144.9,657.6 L147.4,658.3 L149.9,658.7 L152.4,659.0 L154.9,659.3 L157.4,659.6 L159.9,659.9 L162.5,660.1 L165.0,660.3 L167.5,660.4 L170.0,660.5 L172.5,660.4 L175.0,660.0 L177.5,659.5 L180.0,659.1 L182.6,659.1 L185.1,659.2 L187.6,659.4 L190.1,659.2 L192.6,658.9 L195.1,658.7 L197.6,658.4 L200.1,658.4 L202.6,658.3 L205.2,658.3 L207.7,658.3 L210.2,658.3 L212.7,658.2 L215.2,658.0 L217.7,657.8 L220.2,658.0 L222.7,658.4 L225.3,658.6 L227.8,658.9 L230.3,659.2 L232.8,659.3 L235.3,659.3 L237.8,659.3 L240.3,659.3 L242.8,659.7 L245.4,660.1 L247.9,660.5 L250.4,661.3 L252.9,662.0 L255.4,662.7 L257.9,663.4 L260.4,663.9 L262.9,663.8 L265.4,664.1 L268.0,665.5 L270.5,666.7 L273.0,667.3 L275.5,667.1 L278.0,666.5 L280.5,666.4 L283.0,666.5 L285.5,666.9 L288.1,667.8 L290.6,668.6 L293.1,668.6 L295.6,668.5 L298.1,668.3 L300.6,667.9 L303.1,667.5 L305.6,667.1 L308.2,666.7 L310.7,666.0 L313.2,667.0 L315.7,668.5 L318.2,669.7 L320.7,671.3 L323.2,673.5 L325.7,675.9 L328.2,678.2 L330.8,680.2 L333.3,682.2 L335.8,683.9 L338.3,685.3 L340.8,686.7 L343.3,687.9 L345.8,689.0 L348.3,689.5 L350.9,689.7 L353.4,689.7 L355.9,689.6 L358.4,689.7 L360.9,690.1 L363.4,690.8 L365.9,691.6 L368.4,692.3 L371.0,693.1 L373.5,693.8 L376.0,694.3 L378.5,694.8 L381.0,694.8 L383.5,694.7 L386.0,694.6 L388.5,694.3 L391.0,694.1 L393.6,693.8 L396.1,693.6 L398.6,693.5 L401.1,693.1 L403.6,692.5 L406.1,691.8 L408.6,691.2 L411.1,690.1 L413.7,688.9 L416.2,687.5 L418.7,686.0 L421.2,684.6 L423.7,683.7 L426.2,683.1 L428.7,682.3 L431.2,681.4 L433.8,680.6 L436.3,679.7 L438.8,678.9 L441.3,678.1 L443.8,677.4 L446.3,676.9 L448.8,676.4 L451.3,675.8 L453.8,674.8 L456.4,673.8 L458.9,672.5 L461.4,670.9 L463.9,669.2 L466.4,667.4 L468.9,665.7 L471.4,664.1 L473.9,662.5 L476.5,660.8 L479.0,658.9 L481.5,656.8 L484.0,654.6 L486.5,652.3 L489.0,650.1 L491.5,648.0 L494.0,646.1 L496.6,644.0 L499.1,641.8 L501.6,639.6 L504.1,637.3 L506.6,635.1 L509.1,632.8 L511.6,630.3 L514.1,628.0 L516.6,625.8 L519.2,623.1 L521.7,620.5 L524.2,618.3 L526.7,616.0 L529.2,613.7 L531.7,611.5 L534.2,609.2 L536.7,607.0 L539.3,604.8 L541.8,602.4 L544.3,599.9 L546.8,597.0 L549.3,593.9 L551.8,590.7 L554.3,587.7 L556.8,585.7 L559.4,584.1 L561.9,581.6 L564.4,579.0 L566.9,576.3 L569.4,574.1 L571.9,572.8 L574.4,571.8 L576.9,570.9 L579.4,569.7 L582.0,568.2 L584.5,566.7 L587.0,565.2 L589.5,563.7 L592.0,562.0 L594.5,560.7 L597.0,559.5 L599.5,558.3 L602.1,557.0 L604.6,555.5 L607.1,554.1 L609.6,552.6 L612.1,551.4 L614.6,550.3 L617.1,549.2 L619.6,548.2 L622.2,547.2 L624.7,546.1 L627.2,544.9 L629.7,543.7 L632.2,542.6 L634.7,541.4 L637.2,540.5 L639.7,539.7 L642.2,539.0 L644.8,538.3 L647.3,537.2 L649.8,535.8 L652.3,534.4 L654.8,533.0 L657.3,531.5 L659.8,529.6 L662.3,528.2 L664.9,527.1 L667.4,526.1 L669.9,526.1 L672.4,526.5 L674.9,526.1 L677.4,525.6 L679.9,524.9 L682.4,523.9 L685.0,522.8 L687.5,521.7 L690.0,520.6 L692.5,519.6 L695.0,518.8" stroke="#459b45" stroke-width="2.1" fill="none" stroke-linejoin="round"/>
<path d="M67.0,390.5 L69.5,388.9 L72.0,387.0 L74.5,385.0 L77.0,382.9 L79.6,379.9 L82.1,376.4 L84.6,373.0 L87.1,370.3 L89.6,367.7 L92.1,365.2 L94.6,362.7 L97.1,360.3 L99.7,358.2 L102.2,356.2 L104.7,354.2 L107.2,352.2 L109.7,350.2 L112.2,348.4 L114.7,346.5 L117.2,344.7 L119.8,342.9 L122.3,341.2 L124.8,339.6 L127.3,338.2 L129.8,336.7 L132.3,335.3 L134.8,333.9 L137.3,332.5 L139.8,331.1 L142.4,329.7 L144.9,328.3 L147.4,327.1 L149.9,326.1 L152.4,325.1 L154.9,324.2 L157.4,323.4 L159.9,322.5 L162.5,321.8 L165.0,321.1 L167.5,320.5 L170.0,319.9 L172.5,319.5 L175.0,319.5 L177.5,319.4 L180.0,319.4 L182.6,319.0 L185.1,318.4 L187.6,317.9 L190.1,317.7 L192.6,317.7 L195.1,317.6 L197.6,317.5 L200.1,317.5 L202.6,317.3 L205.2,317.2 L207.7,317.1 L210.2,316.9 L212.7,316.7 L215.2,315.5 L217.7,313.7 L220.2,311.9 L222.7,310.4 L225.3,309.2 L227.8,307.9 L230.3,306.7 L232.8,305.6 L235.3,304.6 L237.8,303.5 L240.3,302.5 L242.8,301.1 L245.4,299.6 L247.9,298.0 L250.4,296.1 L252.9,293.8 L255.4,291.5 L257.9,289.1 L260.4,286.7 L262.9,284.2 L265.4,281.2 L268.0,276.9 L270.5,272.7 L273.0,268.4 L275.5,264.8 L278.0,261.8 L280.5,258.9 L283.0,255.7 L285.5,252.6 L288.1,249.6 L290.6,246.9 L293.1,244.9 L295.6,243.0 L298.1,241.1 L300.6,239.5 L303.1,237.8 L305.6,235.9 L308.2,232.7 L310.7,229.0 L313.2,224.0 L315.7,219.0 L318.2,214.5 L320.7,210.1 L323.2,205.7 L325.7,201.2 L328.2,197.0 L330.8,193.1 L333.3,189.4 L335.8,186.2 L338.3,183.3 L340.8,180.6 L343.3,178.0 L345.8,175.6 L348.3,173.6 L350.9,172.0 L353.4,170.5 L355.9,169.2 L358.4,168.0 L360.9,166.6 L363.4,165.0 L365.9,163.4 L368.4,161.9 L371.0,160.3 L373.5,158.8 L376.0,157.3 L378.5,156.0 L381.0,155.0 L383.5,154.2 L386.0,153.5 L388.5,152.8 L391.0,152.2 L393.6,151.7 L396.1,151.1 L398.6,150.7 L401.1,150.5 L403.6,150.6 L406.1,150.6 L408.6,150.8 L411.1,151.2 L413.7,151.7 L416.2,152.3 L418.7,152.9 L421.2,153.4 L423.7,153.4 L426.2,153.1 L428.7,153.1 L431.2,153.3 L433.8,153.6 L436.3,154.0 L438.8,154.4 L441.3,154.7 L443.8,154.9 L446.3,155.0 L448.8,154.9 L451.3,154.7 L453.8,154.6 L456.4,154.5 L458.9,154.7 L461.4,155.1 L463.9,155.6 L466.4,156.2 L468.9,156.8 L471.4,157.4 L473.9,158.2 L476.5,159.0 L479.0,159.8 L481.5,160.7 L484.0,161.5 L486.5,162.5 L489.0,163.4 L491.5,164.4 L494.0,165.4 L496.6,166.6 L499.1,167.9 L501.6,169.2 L504.1,170.6 L506.6,172.0 L509.1,173.5 L511.6,175.1 L514.1,176.6 L516.6,177.3 L519.2,177.8 L521.7,178.9 L524.2,180.6 L526.7,182.6 L529.2,184.4 L531.7,186.2 L534.2,188.0 L536.7,189.6 L539.3,190.5 L541.8,191.1 L544.3,191.7 L546.8,192.2 L549.3,192.8 L551.8,193.6 L554.3,194.4 L556.8,194.2 L559.4,193.6 L561.9,193.6 L564.4,193.9 L566.9,194.2 L569.4,194.5 L571.9,194.2 L574.4,193.5 L576.9,192.8 L579.4,192.1 L582.0,191.7 L584.5,191.4 L587.0,191.1 L589.5,190.8 L592.0,191.0 L594.5,191.5 L597.0,192.0 L599.5,192.4 L602.1,192.7 L604.6,193.0 L607.1,193.3 L609.6,193.5 L612.1,193.4 L614.6,193.3 L617.1,193.2 L619.6,193.1 L622.2,193.0 L624.7,193.1 L627.2,193.2 L629.7,193.3 L632.2,193.4 L634.7,193.5 L637.2,193.4 L639.7,193.3 L642.2,193.1 L644.8,193.0 L647.3,193.3 L649.8,193.8 L652.3,194.4 L654.8,195.0 L657.3,195.4 L659.8,195.8 L662.3,194.7 L664.9,193.1 L667.4,191.6 L669.9,190.1 L672.4,188.8 L674.9,188.3 L677.4,187.8 L679.9,187.5 L682.4,187.5 L685.0,187.5 L687.5,187.6 L690.0,187.6 L692.5,187.4 L695.0,187.2" stroke="#ee5458" stroke-width="2.1" fill="none" stroke-linejoin="round" stroke-linecap="round"/>
<rect x="332" y="255.6" width="497" height="12.6" fill="#fbe49a" fill-opacity="0.5" stroke="#d85a5a" stroke-width="1.2"/>
<path d="M67.0,508.8 L69.5,508.6 L72.0,508.4 L74.5,508.1 L77.0,507.8 L79.6,507.1 L82.1,505.1 L84.6,503.6 L87.1,502.9 L89.6,502.2 L92.1,501.7 L94.6,501.1 L97.1,500.6 L99.7,500.1 L102.2,499.6 L104.7,499.2 L107.2,498.7 L109.7,498.3 L112.2,497.8 L114.7,497.4 L117.2,497.0 L119.8,496.6 L122.3,496.2 L124.8,495.8 L127.3,495.4 L129.8,495.0 L132.3,494.6 L134.8,494.2 L137.3,493.9 L139.8,493.6 L142.4,493.3 L144.9,493.0 L147.4,492.7 L149.9,492.4 L152.4,492.1 L154.9,491.8 L157.4,491.5 L159.9,491.2 L162.5,491.0 L165.0,490.7 L167.5,490.4 L170.0,490.2 L172.5,490.0 L175.0,489.7 L177.5,489.5 L180.0,489.2 L182.6,489.0 L185.1,488.8 L187.6,488.6 L190.1,488.5 L192.6,488.3 L195.1,488.1 L197.6,488.0 L200.1,487.9 L202.6,487.8 L205.2,487.8 L207.7,487.7 L210.2,487.6 L212.7,487.5 L215.2,486.7 L217.7,485.8 L220.2,484.9 L222.7,484.4 L225.3,483.9 L227.8,483.4 L230.3,482.9 L232.8,482.4 L235.3,481.9 L237.8,481.4 L240.3,480.9 L242.8,480.4 L245.4,479.8 L247.9,479.3 L250.4,478.7 L252.9,477.9 L255.4,477.1 L257.9,476.3 L260.4,475.3 L262.9,474.0 L265.4,472.6 L268.0,471.2 L270.5,469.7 L273.0,467.8 L275.5,465.9 L278.0,464.2 L280.5,462.6 L283.0,461.1 L285.5,459.8 L288.1,458.7 L290.6,457.7 L293.1,456.7 L295.6,455.8 L298.1,454.7 L300.6,453.7 L303.1,452.6 L305.6,451.5 L308.2,449.7 L310.7,447.5 L313.2,445.5 L315.7,443.8 L318.2,442.1 L320.7,440.7 L323.2,439.6 L325.7,438.6 L328.2,437.6 L330.8,436.6 L333.3,435.8 L335.8,435.0 L338.3,434.3 L340.8,433.7 L343.3,433.0 L345.8,432.3 L348.3,431.5 L350.9,430.8 L353.4,430.1 L355.9,429.4 L358.4,428.8 L360.9,428.4 L363.4,427.9 L365.9,427.5 L368.4,427.1 L371.0,426.7 L373.5,426.3 L376.0,425.8 L378.5,425.4 L381.0,424.9 L383.5,424.5 L386.0,424.0 L388.5,423.6 L391.0,423.1 L393.6,422.7 L396.1,422.4 L398.6,422.1 L401.1,421.8 L403.6,421.5 L406.1,421.2 L408.6,421.0 L411.1,420.7 L413.7,420.3 L416.2,419.9 L418.7,419.5 L421.2,419.0 L423.7,418.5 L426.2,418.1 L428.7,417.7 L431.2,417.4 L433.8,417.1 L436.3,416.9 L438.8,416.6 L441.3,416.4 L443.8,416.2 L446.3,415.9 L448.8,415.6 L451.3,415.2 L453.8,414.7 L456.4,414.2 L458.9,413.6 L461.4,413.0 L463.9,412.4 L466.4,411.8 L468.9,411.2 L471.4,410.7 L473.9,410.3 L476.5,409.9 L479.0,409.4 L481.5,408.7 L484.0,408.1 L486.5,407.4 L489.0,406.7 L491.5,406.2 L494.0,405.7 L496.6,405.3 L499.1,404.8 L501.6,404.4 L504.1,404.0 L506.6,403.5 L509.1,403.1 L511.6,402.7 L514.1,402.3 L516.6,401.6 L519.2,400.5 L521.7,399.7 L524.2,399.5 L526.7,399.3 L529.2,399.1 L531.7,398.8 L534.2,398.6 L536.7,398.3 L539.3,397.7 L541.8,396.8 L544.3,395.8 L546.8,394.6 L549.3,393.3 L551.8,392.1 L554.3,391.0 L556.8,389.9 L559.4,388.8 L561.9,387.6 L564.4,386.4 L566.9,385.3 L569.4,384.3 L571.9,383.5 L574.4,382.6 L576.9,381.8 L579.4,380.9 L582.0,380.0 L584.5,379.0 L587.0,378.1 L589.5,377.3 L592.0,376.5 L594.5,376.1 L597.0,375.7 L599.5,375.4 L602.1,374.9 L604.6,374.3 L607.1,373.7 L609.6,373.1 L612.1,372.4 L614.6,371.8 L617.1,371.2 L619.6,370.6 L622.2,370.1 L624.7,369.6 L627.2,369.0 L629.7,368.5 L632.2,368.0 L634.7,367.5 L637.2,367.0 L639.7,366.5 L642.2,366.0 L644.8,365.6 L647.3,365.2 L649.8,364.8 L652.3,364.4 L654.8,364.0 L657.3,363.5 L659.8,362.7 L662.3,361.4 L664.9,360.1 L667.4,358.9 L669.9,358.1 L672.4,357.7 L674.9,357.2 L677.4,356.7 L679.9,356.2 L682.4,355.7 L685.0,355.2 L687.5,354.6 L690.0,354.1 L692.5,353.5 L695.0,353.0" stroke="#f25af2" stroke-width="2.2" fill="none" stroke-linejoin="round"/>
<path d="M186.8,485.5V478" stroke="#e0364a" stroke-width="1.5"/>
<path d="M186.8,485.2L909.8,295.4" stroke="#e0394c" stroke-width="2.0" stroke-linecap="round"/>
<rect x="201.4" y="470.2" width="144" height="4.6" fill="#f5a93a"/>
<rect x="345" y="470.2" width="232" height="4.6" fill="#f5c643"/>
<rect x="577" y="470.2" width="117.8" height="4.6" fill="#f1e87a"/>
<rect x="201.4" y="472.9" width="143.6" height="2.2" fill="#f7ba46"/>
<rect x="201.4" y="474.8" width="71" height="3.2" fill="#f7931e"/>
<rect x="272" y="474.8" width="93" height="3.2" fill="#f5a93a"/>
<rect x="365" y="474.8" width="194" height="3.0" fill="#f5c643"/>
<rect x="559" y="474.8" width="135.8" height="2.6" fill="#d9d9d9"/>
<rect x="622.2" y="319.6" width="45.3" height="6.6" fill="#f7a128"/>
<rect x="667.5" y="319.6" width="27.3" height="9.8" fill="#d9d9df"/>
<rect x="622.2" y="326.2" width="29.8" height="10.5" fill="#f7a128"/>
<rect x="622.2" y="330" width="29.8" height="3.4" fill="#f9b93c"/>
<rect x="652" y="326.2" width="15.5" height="3.2" fill="#e4e4e8"/>
<rect x="652" y="329.4" width="42.8" height="4.9" fill="#f5e25a"/>
<rect x="652" y="334.3" width="42.8" height="2.4" fill="#dcdce0"/>
<path d="M129,290.4H1014" stroke="#f23645" stroke-opacity="0.85" stroke-width="0.9" stroke-dasharray="1,2" fill="none"/>
<path d="M67.9,465.6V473.1 M70.8,466.3V476.6 M73.7,452.0V467.7 M79.5,447.9V462.9 M82.4,419.8V452.6 M91.1,428.0V442.4 M96.9,432.8V440.3 M108.5,451.3V458.8 M111.4,445.1V454.7 M114.3,434.2V452.0 M117.2,420.5V440.3 M120.1,426.0V437.6 M134.7,434.9V442.4 M137.6,428.0V439.0 M140.5,414.1V432.8 M160.8,435.8V443.8 M178.2,452.0V459.5 M184.0,455.4V468.4 M189.8,471.1V483.4 M195.6,475.9V480.9 M198.6,469.0V477.9 M201.5,464.3V476.6 M204.4,464.5V474.1 M207.3,463.1V474.8 M210.2,460.4V466.6 M213.1,455.9V466.6 M216.0,426.2V457.7 M218.9,413.2V431.0 M224.7,407.1V424.2 M236.3,416.7V428.0 M239.2,403.0V421.4 M245.0,391.4V419.4 M250.8,390.0V410.5 M253.7,372.5V403.7 M256.6,361.5V384.8 M259.5,362.2V373.1 M265.3,339.0V371.8 M268.2,332.8V349.2 M271.2,288.1V344.4 M277.0,332.1V357.4 M282.8,327.3V360.2 M288.6,330.8V351.3 M291.5,317.1V341.0 M297.3,320.5V422.8 M303.1,345.1V375.2 M306.0,335.5V371.1 M308.9,289.9V346.5 M314.7,282.4V314.5 M317.6,271.4V308.4 M323.4,280.3V305.6 M326.3,261.2V288.5 M332.1,255.7V271.4 M337.9,281.7V300.2 M340.8,274.2V300.2 M343.8,262.6V289.9 M358.3,300.2V324.8 M361.2,305.6V318.6 M364.1,281.7V308.4 M369.9,288.5V308.4 M372.8,281.7V294.7 M375.7,267.3V294.7 M387.3,313.8V332.9 M393.1,310.3V329.5 M398.9,289.1V313.8 M413.4,339.7V356.8 M416.4,341.8V361.6 M422.2,345.9V358.2 M425.1,300.1V348.6 M433.8,329.5V340.8 M436.7,312.4V331.5 M442.5,300.8V324.7 M445.4,301.4V324.0 M448.3,291.9V316.5 M451.2,291.2V306.9 M454.1,283.0V306.2 M471.5,336.3V352.7 M474.4,341.1V356.1 M477.3,337.7V349.3 M480.2,337.7V350.7 M483.1,324.8V339.8 M489.0,331.6V341.9 M497.7,350.8V374.0 M503.5,359.0V372.0 M509.3,353.5V379.5 M512.2,365.8V375.4 M520.9,382.2V396.6 M523.8,374.0V401.4 M526.7,363.1V377.4 M532.5,352.1V371.3 M535.4,358.3V369.2 M538.3,339.8V367.9 M544.1,359.0V365.1 M549.9,361.0V371.3 M552.8,354.9V366.5 M555.7,359.0V367.2 M558.6,349.4V360.3 M567.4,361.7V372.0 M570.3,352.1V363.1 M576.1,356.2V364.4 M579.0,348.7V361.0 M581.9,346.7V359.0 M590.6,353.5V369.9 M596.4,354.9V367.9 M599.3,348.0V359.6 M602.2,343.2V355.5 M605.1,332.3V348.0 M608.0,333.7V342.6 M613.8,328.3V342.0 M616.7,328.3V346.1 M619.6,321.4V330.3 M625.4,322.8V336.5 M628.3,316.7V337.2 M631.2,307.8V319.4 M634.2,299.6V317.3 M637.1,293.8V319.8 M640.0,274.0V303.4 M645.8,292.4V299.9 M657.4,306.1V320.5 M663.2,287.0V323.2 M666.1,280.1V302.0 M669.0,258.9V292.4 M674.8,267.8V287.6 M686.4,297.2V310.9 M689.3,284.9V299.9 M692.2,277.7V303.4" stroke="#089981" stroke-width="1.05" fill="none"/>
<path d="M76.6,458.8V465.6 M85.3,416.1V432.1 M88.2,428.0V444.4 M94.0,420.5V439.6 M99.8,433.5V439.6 M102.7,435.8V448.5 M105.6,447.2V457.4 M123.0,423.2V434.9 M126.0,424.6V434.9 M128.9,430.8V437.6 M131.8,433.5V444.4 M143.4,418.9V431.4 M146.3,429.4V438.3 M149.2,429.0V441.7 M152.1,432.1V439.6 M155.0,434.2V442.4 M157.9,438.3V443.5 M163.7,437.2V454.0 M166.6,452.0V460.2 M169.5,452.6V460.2 M172.4,443.1V458.1 M175.3,454.7V460.2 M181.1,456.1V475.9 M186.9,460.2V488.9 M192.7,471.8V480.7 M221.8,403.7V420.8 M227.6,403.7V418.0 M230.5,410.5V420.8 M233.4,416.7V430.7 M242.1,411.2V433.1 M247.9,389.6V403.7 M262.4,363.6V373.8 M274.1,290.6V354.7 M279.9,338.3V352.6 M285.7,328.0V388.2 M294.4,333.5V453.6 M300.2,337.6V373.8 M311.8,266.0V317.9 M320.5,277.6V305.6 M329.2,263.2V291.3 M335.0,259.1V302.9 M346.7,266.7V292.6 M349.6,281.0V300.2 M352.5,294.0V325.5 M355.4,291.3V317.9 M367.0,295.4V313.8 M378.6,282.4V298.1 M381.5,295.3V305.5 M384.4,301.4V332.2 M390.2,317.2V339.0 M396.0,306.9V316.5 M401.8,305.3V323.3 M404.7,319.9V335.6 M407.6,319.9V338.4 M410.5,333.6V355.5 M419.3,341.8V350.7 M428.0,302.1V325.4 M430.9,319.9V342.5 M439.6,319.2V331.5 M457.0,290.5V314.4 M459.9,302.1V321.3 M462.8,313.1V330.2 M465.7,315.8V335.6 M468.6,329.5V347.2 M486.0,328.9V342.6 M491.9,331.6V345.3 M494.8,332.3V360.3 M500.6,354.2V371.3 M506.4,359.0V381.5 M515.1,360.3V369.9 M518.0,367.9V397.9 M529.6,363.8V375.4 M541.2,343.9V364.4 M547.0,354.9V370.6 M561.6,351.4V365.8 M564.5,358.3V367.9 M573.2,352.1V363.8 M584.8,346.7V358.3 M587.7,356.2V364.4 M593.5,353.5V361.7 M610.9,326.2V339.2 M622.5,320.1V337.2 M642.9,282.2V297.2 M648.7,292.4V297.9 M651.6,296.5V303.4 M654.5,300.6V320.5 M660.3,311.6V325.2 M671.9,241.2V292.4 M677.7,279.4V292.4 M680.6,289.7V304.7 M683.5,292.4V315.7 M695.1,278.8V291.1" stroke="#f23645" stroke-width="1.05" fill="none"/>
<path d="M66.7,468.4h2.4V471.1h-2.4z M69.6,467.0h2.4V471.1h-2.4z M72.5,458.8h2.4V467.0h-2.4z M78.3,448.5h2.4V461.5h-2.4z M81.2,423.9h2.4V448.5h-2.4z M89.9,433.5h2.4V441.7h-2.4z M95.7,433.5h2.4V439.0h-2.4z M107.3,452.0h2.4V456.7h-2.4z M110.2,451.3h2.4V452.6h-2.4z M113.1,436.2h2.4V451.3h-2.4z M116.0,434.2h2.4V436.9h-2.4z M118.9,426.9h2.4V434.2h-2.4z M133.5,436.9h2.4V441.7h-2.4z M136.4,429.0h2.4V437.6h-2.4z M139.3,421.9h2.4V429.4h-2.4z M159.6,437.6h2.4V443.1h-2.4z M177.0,455.4h2.4V457.2h-2.4z M182.8,462.9h2.4V467.7h-2.4z M188.6,472.5h2.4V477.2h-2.4z M194.4,476.6h2.4V480.0h-2.4z M197.4,470.4h2.4V477.2h-2.4z M200.3,470.4h2.4V474.5h-2.4z M203.2,470.0h2.4V473.4h-2.4z M206.1,465.2h2.4V470.7h-2.4z M209.0,462.5h2.4V465.9h-2.4z M211.9,457.0h2.4V463.8h-2.4z M214.8,429.6h2.4V457.0h-2.4z M217.7,414.6h2.4V429.6h-2.4z M223.5,411.2h2.4V418.0h-2.4z M235.1,420.8h2.4V424.9h-2.4z M238.0,411.9h2.4V420.8h-2.4z M243.8,396.2h2.4V415.3h-2.4z M249.6,391.4h2.4V401.0h-2.4z M252.5,384.8h2.4V401.0h-2.4z M255.4,367.0h2.4V384.1h-2.4z M258.3,365.6h2.4V367.0h-2.4z M264.1,346.5h2.4V368.4h-2.4z M267.0,343.8h2.4V347.2h-2.4z M270.0,301.5h2.4V343.8h-2.4z M275.8,339.6h2.4V348.5h-2.4z M281.6,329.4h2.4V347.9h-2.4z M287.4,339.0h2.4V347.2h-2.4z M290.3,337.6h2.4V339.6h-2.4z M296.1,352.0h2.4V393.0h-2.4z M301.9,361.5h2.4V373.8h-2.4z M304.8,340.3h2.4V361.5h-2.4z M307.7,297.4h2.4V340.3h-2.4z M313.5,283.1h2.4V307.7h-2.4z M316.4,281.7h2.4V304.3h-2.4z M322.2,283.8h2.4V303.6h-2.4z M325.1,266.0h2.4V283.8h-2.4z M330.9,265.7h2.4V266.8h-2.4z M336.7,290.6h2.4V299.5h-2.4z M339.6,287.2h2.4V291.3h-2.4z M342.6,270.1h2.4V287.2h-2.4z M357.1,314.5h2.4V317.9h-2.4z M360.0,307.0h2.4V315.2h-2.4z M362.9,303.6h2.4V307.0h-2.4z M368.7,293.3h2.4V305.6h-2.4z M371.6,291.3h2.4V293.3h-2.4z M374.5,283.1h2.4V292.0h-2.4z M386.1,317.9h2.4V324.0h-2.4z M391.9,311.0h2.4V325.4h-2.4z M397.7,306.2h2.4V313.1h-2.4z M412.2,352.7h2.4V354.8h-2.4z M415.2,344.5h2.4V352.7h-2.4z M421.0,347.2h2.4V350.0h-2.4z M423.9,309.0h2.4V347.9h-2.4z M432.6,330.8h2.4V340.4h-2.4z M435.5,322.6h2.4V330.8h-2.4z M441.3,319.9h2.4V324.0h-2.4z M444.2,308.3h2.4V319.9h-2.4z M447.1,303.5h2.4V308.3h-2.4z M450.0,301.4h2.4V304.2h-2.4z M452.9,299.4h2.4V302.1h-2.4z M470.3,344.5h2.4V346.6h-2.4z M473.2,343.8h2.4V345.2h-2.4z M476.1,343.1h2.4V344.5h-2.4z M479.0,339.0h2.4V343.8h-2.4z M481.9,330.9h2.4V339.1h-2.4z M487.8,337.1h2.4V339.1h-2.4z M496.5,356.2h2.4V359.6h-2.4z M502.3,360.3h2.4V365.8h-2.4z M508.1,371.3h2.4V378.8h-2.4z M511.0,367.2h2.4V371.3h-2.4z M519.7,382.9h2.4V394.5h-2.4z M522.6,375.4h2.4V393.8h-2.4z M525.5,364.4h2.4V376.1h-2.4z M531.3,367.9h2.4V370.6h-2.4z M534.2,365.8h2.4V368.5h-2.4z M537.1,345.3h2.4V365.8h-2.4z M542.9,359.6h2.4V361.7h-2.4z M548.7,362.4h2.4V367.2h-2.4z M551.6,361.0h2.4V363.1h-2.4z M554.5,359.6h2.4V362.4h-2.4z M557.4,354.2h2.4V359.6h-2.4z M566.2,362.4h2.4V367.2h-2.4z M569.1,352.8h2.4V362.4h-2.4z M574.9,356.9h2.4V361.7h-2.4z M577.8,352.8h2.4V356.9h-2.4z M580.7,350.8h2.4V353.5h-2.4z M589.4,359.6h2.4V361.0h-2.4z M595.2,357.6h2.4V361.0h-2.4z M598.1,352.1h2.4V358.3h-2.4z M601.0,344.6h2.4V352.8h-2.4z M603.9,340.5h2.4V345.3h-2.4z M606.8,335.7h2.4V341.2h-2.4z M612.6,336.5h2.4V338.5h-2.4z M615.5,329.0h2.4V336.5h-2.4z M618.4,328.3h2.4V329.6h-2.4z M624.2,332.4h2.4V335.8h-2.4z M627.1,317.3h2.4V335.8h-2.4z M630.0,312.6h2.4V317.3h-2.4z M633.0,305.7h2.4V313.2h-2.4z M635.9,295.8h2.4V306.1h-2.4z M638.8,287.0h2.4V296.5h-2.4z M644.6,294.9h2.4V295.9h-2.4z M656.2,312.2h2.4V319.8h-2.4z M662.0,287.6h2.4V322.5h-2.4z M664.9,287.6h2.4V289.0h-2.4z M667.8,263.7h2.4V288.3h-2.4z M673.6,282.2h2.4V283.2h-2.4z M685.2,297.9h2.4V305.4h-2.4z M688.1,289.7h2.4V299.3h-2.4z M691.0,284.9h2.4V290.4h-2.4z" fill="#089981"/>
<path d="M75.4,459.1h2.4V461.5h-2.4z M84.1,423.9h2.4V429.4h-2.4z M87.0,428.7h2.4V441.7h-2.4z M92.8,434.2h2.4V438.3h-2.4z M98.6,434.2h2.4V436.2h-2.4z M101.5,436.2h2.4V447.9h-2.4z M104.4,447.9h2.4V456.7h-2.4z M121.8,426.9h2.4V430.8h-2.4z M124.8,430.1h2.4V433.5h-2.4z M127.7,433.5h2.4V436.2h-2.4z M130.6,435.5h2.4V441.0h-2.4z M142.2,420.5h2.4V430.1h-2.4z M145.1,430.4h2.4V433.5h-2.4z M148.0,432.1h2.4V434.2h-2.4z M150.9,433.5h2.4V436.9h-2.4z M153.8,435.3h2.4V441.0h-2.4z M156.7,440.3h2.4V443.1h-2.4z M162.5,438.0h2.4V453.3h-2.4z M165.4,452.6h2.4V454.0h-2.4z M168.3,453.3h2.4V456.1h-2.4z M171.2,454.7h2.4V456.7h-2.4z M174.1,456.1h2.4V457.4h-2.4z M179.9,456.7h2.4V467.7h-2.4z M185.7,462.9h2.4V477.2h-2.4z M191.5,472.5h2.4V480.0h-2.4z M220.6,414.6h2.4V418.0h-2.4z M226.4,411.9h2.4V415.3h-2.4z M229.3,414.6h2.4V417.3h-2.4z M232.2,417.3h2.4V424.9h-2.4z M240.9,411.9h2.4V415.3h-2.4z M246.7,396.2h2.4V401.6h-2.4z M261.2,365.6h2.4V368.4h-2.4z M272.9,301.5h2.4V349.9h-2.4z M278.7,339.6h2.4V347.9h-2.4z M284.5,329.4h2.4V347.2h-2.4z M293.2,336.9h2.4V393.0h-2.4z M299.0,351.3h2.4V373.1h-2.4z M310.6,296.7h2.4V307.7h-2.4z M319.3,281.0h2.4V303.6h-2.4z M328.0,266.0h2.4V267.3h-2.4z M333.8,266.0h2.4V299.5h-2.4z M345.5,270.1h2.4V287.2h-2.4z M348.4,287.2h2.4V296.1h-2.4z M351.3,296.1h2.4V309.0h-2.4z M354.2,309.0h2.4V317.2h-2.4z M365.8,303.6h2.4V305.6h-2.4z M377.4,283.1h2.4V296.7h-2.4z M380.3,296.7h2.4V303.5h-2.4z M383.2,303.5h2.4V324.0h-2.4z M389.0,317.9h2.4V325.4h-2.4z M394.8,311.0h2.4V313.8h-2.4z M400.6,306.2h2.4V320.6h-2.4z M403.5,320.6h2.4V325.4h-2.4z M406.4,324.7h2.4V337.7h-2.4z M409.3,337.0h2.4V354.8h-2.4z M418.1,344.5h2.4V350.0h-2.4z M426.8,309.0h2.4V324.7h-2.4z M429.7,324.0h2.4V341.1h-2.4z M438.4,322.6h2.4V324.0h-2.4z M455.8,299.4h2.4V309.6h-2.4z M458.7,309.0h2.4V315.8h-2.4z M461.6,315.8h2.4V317.9h-2.4z M464.5,317.2h2.4V331.5h-2.4z M467.4,331.5h2.4V346.6h-2.4z M484.8,330.9h2.4V339.1h-2.4z M490.7,337.1h2.4V344.6h-2.4z M493.6,344.6h2.4V359.6h-2.4z M499.4,356.2h2.4V365.8h-2.4z M505.2,360.3h2.4V378.8h-2.4z M513.9,367.2h2.4V369.2h-2.4z M516.8,369.2h2.4V394.5h-2.4z M528.4,364.4h2.4V370.6h-2.4z M540.0,345.3h2.4V361.0h-2.4z M545.8,359.6h2.4V367.2h-2.4z M560.4,354.2h2.4V365.1h-2.4z M563.3,364.4h2.4V367.2h-2.4z M572.0,352.8h2.4V361.7h-2.4z M583.6,350.8h2.4V356.9h-2.4z M586.5,356.9h2.4V361.0h-2.4z M592.3,359.6h2.4V361.0h-2.4z M609.7,336.5h2.4V338.5h-2.4z M621.3,320.8h2.4V336.5h-2.4z M641.7,287.0h2.4V296.5h-2.4z M647.5,294.5h2.4V297.2h-2.4z M650.4,297.2h2.4V302.7h-2.4z M653.3,302.0h2.4V319.8h-2.4z M659.1,312.2h2.4V323.9h-2.4z M670.7,263.7h2.4V282.9h-2.4z M676.5,282.2h2.4V291.1h-2.4z M679.4,290.4h2.4V303.4h-2.4z M682.3,302.7h2.4V305.4h-2.4z M693.9,284.9h2.4V290.4h-2.4z" fill="#f23645"/>
<path d="M700.5,314.0 C700.9,312.1 701.9,307.0 702.9,302.8 C703.9,298.6 705.3,292.4 706.4,288.7 C707.5,285.0 708.3,282.2 709.2,280.5 C710.1,278.8 710.7,277.8 711.6,278.2 C712.5,278.6 713.5,281.1 714.6,282.9 C715.7,284.6 716.9,287.3 718.1,288.7 C719.3,290.1 720.4,291.1 721.6,291.1 C722.8,291.1 723.8,290.3 725.2,288.7 C726.6,287.1 728.5,283.2 729.8,281.7 C731.0,280.2 731.7,279.8 732.7,279.8 C733.7,279.8 734.8,281.2 735.7,281.7 C736.6,282.2 737.2,283.5 738.0,282.9 C738.8,282.3 739.5,280.8 740.4,278.2 C741.3,275.6 742.2,271.9 743.4,267.6 C744.6,263.3 745.9,257.5 747.4,252.4 C748.9,247.3 750.5,241.9 752.1,237.2 C753.7,232.5 755.4,227.4 756.8,224.3 C758.2,221.2 759.2,219.6 760.3,218.4 C761.3,217.2 762.1,217.1 763.1,217.3 C764.1,217.5 765.1,218.2 766.2,219.6 C767.3,221.0 768.5,223.7 769.7,225.5 C770.9,227.3 772.0,229.0 773.2,230.2 C774.5,231.4 776.0,232.3 777.2,232.5 C778.4,232.7 779.3,232.1 780.2,231.3 C781.1,230.5 781.9,229.8 782.6,227.8 C783.3,225.9 783.7,222.5 784.2,219.6 C784.7,216.7 785.2,211.8 785.4,210.2" stroke="#e0394c" stroke-width="2.1" fill="none" stroke-linecap="round" stroke-linejoin="round"/>
<path d="M695.2,330.9 C695.5,332.3 696.3,336.8 697.0,339.1 C697.7,341.5 698.6,344.0 699.4,345.0 C700.2,346.0 700.9,345.8 701.7,345.0 C702.6,344.2 703.6,341.3 704.5,340.3 C705.4,339.3 706.0,338.5 706.9,339.1 C707.8,339.7 708.8,341.5 709.9,343.8 C711.0,346.1 712.2,350.7 713.4,353.2 C714.6,355.7 715.9,357.8 716.9,359.0 C717.9,360.2 718.6,361.0 719.3,360.2 C720.0,359.4 720.4,356.9 720.9,354.4 C721.4,351.9 721.8,347.1 722.3,345.0 C722.8,342.9 723.3,341.9 724.0,341.5 C724.7,341.1 725.5,341.6 726.3,342.6 C727.1,343.6 727.7,345.2 728.7,347.3 C729.7,349.4 731.2,353.7 732.2,355.5 C733.2,357.3 734.1,358.1 735.0,358.3 C735.9,358.5 736.6,357.9 737.3,356.7 C738.0,355.4 738.5,353.5 739.2,350.8 C739.9,348.1 740.6,344.4 741.6,340.3 C742.6,336.2 743.9,330.9 745.1,326.2 C746.3,321.5 747.7,315.3 748.6,312.2 C749.5,309.1 749.8,308.1 750.5,307.5 C751.2,306.9 751.9,308.9 752.8,308.7 C753.6,308.5 754.7,307.4 755.6,306.3 C756.5,305.2 757.4,303.3 758.4,302.3 C759.4,301.3 760.5,300.2 761.5,300.5 C762.5,300.8 763.5,302.6 764.5,304.0 C765.5,305.4 766.7,308.1 767.8,308.7 C768.9,309.3 769.9,308.9 770.9,307.5 C771.9,306.1 772.8,303.2 773.9,300.5 C775.0,297.8 776.0,294.2 777.2,291.1 C778.4,288.0 779.8,284.0 780.9,281.7 C782.0,279.4 783.0,278.6 783.7,277.5 C784.5,276.4 785.1,275.8 785.4,275.4" stroke="#e0394c" stroke-width="2.1" fill="none" stroke-linecap="round" stroke-linejoin="round"/>
<circle cx="695.2" cy="552.3" r="9.2" fill="none" stroke="#8e35a8" stroke-width="1.5"/>
<path d="M698.1,547.3L691.7,552.7H695.2L692.3,557.3L698.8,551.9H695.4z" fill="#9c2fc0"/>
</g>
<rect x="67" y="599.4" width="897.5" height="58.2" fill="#f0edf8"/>
<path d="M67,614H964M67,643H964" stroke="#e9e6f2" stroke-width="1"/>
<path d="M88.2,599.4V657.6 M157.9,599.4V657.6 M227.6,599.4V657.6 M297.3,599.4V657.6 M367.0,599.4V657.6 M436.6,599.4V657.6 M506.3,599.4V657.6 M576.0,599.4V657.6 M645.7,599.4V657.6 M715.4,599.4V657.6 M785.3,599.4V657.6 M857.6,599.4V657.6 M927.4,599.4V657.6" stroke="#e9e6f2" stroke-width="1"/>
<path d="M67,599.4H964.5M67,657.6H964.5" stroke="#838391" stroke-width="1.3" stroke-dasharray="5,5.7" fill="none"/>
<path d="M67,628.4H964.5" stroke="#b0b0c0" stroke-width="1.2" stroke-dasharray="5,5.7" fill="none"/>
<g clip-path="url(#cr)">
<clipPath id="ob"><rect x="67" y="560" width="900" height="39.4"/></clipPath>
<path d="M67.0,623.8 L72.5,615.0 L75.0,614.5 L76.2,616.2 L80.0,602.5 L82.0,595.0 L84.2,598.8 L88.8,611.2 L91.2,608.8 L93.8,612.5 L97.5,609.5 L100.0,612.5 L105.0,627.5 L106.2,628.8 L108.8,625.8 L111.8,625.0 L115.0,615.0 L120.0,609.5 L124.5,613.8 L127.5,617.5 L132.0,623.8 L135.0,618.8 L140.0,609.5 L143.8,617.5 L147.5,620.0 L151.2,622.5 L155.0,627.5 L158.8,630.0 L161.2,625.5 L163.8,638.8 L167.5,640.0 L172.5,642.0 L177.5,643.0 L181.2,651.2 L183.2,646.2 L186.2,655.5 L189.5,650.0 L192.0,654.2 L196.2,647.5 L198.8,643.0 L201.2,644.5 L205.0,637.5 L210.0,630.5 L213.0,620.0 L215.5,606.2 L217.5,597.5 L220.5,599.5 L223.0,597.0 L226.2,599.5 L230.0,602.5 L233.8,611.2 L236.2,609.5 L239.5,603.8 L242.5,606.2 L245.5,598.0 L248.8,603.0 L251.2,602.5 L256.2,588.8 L260.0,588.8 L262.5,591.2 L266.2,583.8 L268.8,582.5 L271.2,575.5 L273.8,608.8 L277.0,606.2 L279.5,610.5 L282.0,605.5 L285.0,613.8 L288.0,611.2 L291.2,612.5 L294.5,633.8 L297.0,622.0 L300.0,627.5 L302.5,626.2 L308.8,608.8 L311.2,611.2 L313.8,611.2 L317.5,606.2 L320.5,613.8 L325.0,606.2 L332.0,606.2 L334.5,618.8 L341.2,615.0 L343.8,611.2 L347.5,618.8 L352.5,626.2 L355.5,629.5 L360.0,627.5 L364.5,625.0 L367.5,625.0 L371.2,620.0 L376.2,616.2 L379.5,623.8 L382.5,628.8 L385.0,636.2 L387.5,633.8 L390.0,636.2 L393.0,628.8 L395.0,630.5 L398.8,626.2 L402.5,633.8 L406.2,637.5 L411.2,647.0 L415.0,642.5 L417.5,643.8 L421.2,642.5 L424.5,621.2 L428.8,631.2 L431.2,636.2 L437.0,627.5 L441.2,626.2 L446.2,618.8 L450.0,617.0 L453.8,616.2 L458.0,625.0 L462.5,629.5 L468.0,643.8 L472.5,643.8 L477.5,642.0 L482.0,632.5 L485.5,636.2 L488.8,637.0 L495.0,647.5 L497.5,645.5 L501.2,650.8 L503.8,647.0 L507.0,654.5 L512.5,644.5 L515.5,645.5 L518.8,657.0 L521.2,657.5 L523.8,642.5 L527.0,634.5 L529.5,637.0 L535.0,633.8 L538.0,621.2 L541.2,630.5 L543.8,630.5 L546.2,633.8 L550.0,631.2 L553.8,630.5 L558.0,625.5 L561.2,633.0 L563.8,634.2 L567.0,632.5 L570.5,624.2 L573.8,629.5 L577.5,625.5 L581.2,622.5 L583.8,625.0 L587.5,630.8 L590.0,630.0 L593.8,631.2 L596.2,628.8 L601.2,617.5 L607.5,609.2 L611.2,611.2 L616.2,604.2 L618.8,603.8 L622.5,613.0 L625.0,610.0 L628.0,600.0 L631.2,597.5 L640.0,585.8 L643.0,597.0 L647.0,597.5 L650.0,602.0 L652.5,612.5 L654.5,625.0 L657.0,619.5 L660.0,628.0 L663.0,608.2 L666.2,608.2 L668.8,599.5 L671.2,611.2 L674.5,612.0 L677.5,617.5 L681.2,625.0 L683.8,626.2 L687.5,621.2 L691.2,615.5 L694.5,619.2 L694.5,599.4 L67,599.4z" fill="url(#obg)" clip-path="url(#ob)"/>
<path d="M67.0,617.5 L75.0,619.5 L85.0,618.2 L92.5,615.0 L100.0,612.0 L110.0,612.5 L122.5,614.5 L135.0,617.0 L147.5,617.0 L155.0,618.0 L165.0,623.8 L175.0,630.5 L185.0,637.5 L195.0,643.8 L202.5,646.2 L207.5,646.2 L215.0,641.2 L222.5,633.8 L230.0,623.8 L240.0,612.5 L250.0,603.8 L260.0,598.8 L270.0,596.2 L277.5,595.5 L285.0,597.0 L292.5,601.2 L300.0,606.5 L307.5,612.5 L315.0,615.5 L325.0,616.2 L335.0,613.8 L343.8,611.2 L352.5,613.8 L362.5,618.0 L375.0,623.0 L387.5,626.2 L400.0,627.5 L410.0,632.0 L420.0,636.2 L430.0,637.0 L440.0,636.2 L450.0,632.5 L460.0,626.2 L470.0,627.5 L480.0,630.0 L490.0,634.5 L500.0,640.0 L510.0,643.8 L520.0,646.2 L527.5,647.0 L535.0,645.5 L542.5,642.0 L550.0,638.0 L560.0,632.5 L570.0,630.5 L580.0,629.5 L590.0,629.0 L600.0,627.0 L610.0,622.0 L620.0,617.0 L630.0,610.8 L640.0,603.8 L647.5,600.8 L655.0,601.8 L660.0,603.8 L667.5,604.2 L675.0,607.5 L682.5,612.5 L690.0,616.8 L694.5,618.0" stroke="#efe088" stroke-width="1.7" fill="none" stroke-linejoin="round"/>
<path d="M67.0,623.8 L72.5,615.0 L75.0,614.5 L76.2,616.2 L80.0,602.5 L82.0,595.0 L84.2,598.8 L88.8,611.2 L91.2,608.8 L93.8,612.5 L97.5,609.5 L100.0,612.5 L105.0,627.5 L106.2,628.8 L108.8,625.8 L111.8,625.0 L115.0,615.0 L120.0,609.5 L124.5,613.8 L127.5,617.5 L132.0,623.8 L135.0,618.8 L140.0,609.5 L143.8,617.5 L147.5,620.0 L151.2,622.5 L155.0,627.5 L158.8,630.0 L161.2,625.5 L163.8,638.8 L167.5,640.0 L172.5,642.0 L177.5,643.0 L181.2,651.2 L183.2,646.2 L186.2,655.5 L189.5,650.0 L192.0,654.2 L196.2,647.5 L198.8,643.0 L201.2,644.5 L205.0,637.5 L210.0,630.5 L213.0,620.0 L215.5,606.2 L217.5,597.5 L220.5,599.5 L223.0,597.0 L226.2,599.5 L230.0,602.5 L233.8,611.2 L236.2,609.5 L239.5,603.8 L242.5,606.2 L245.5,598.0 L248.8,603.0 L251.2,602.5 L256.2,588.8 L260.0,588.8 L262.5,591.2 L266.2,583.8 L268.8,582.5 L271.2,575.5 L273.8,608.8 L277.0,606.2 L279.5,610.5 L282.0,605.5 L285.0,613.8 L288.0,611.2 L291.2,612.5 L294.5,633.8 L297.0,622.0 L300.0,627.5 L302.5,626.2 L308.8,608.8 L311.2,611.2 L313.8,611.2 L317.5,606.2 L320.5,613.8 L325.0,606.2 L332.0,606.2 L334.5,618.8 L341.2,615.0 L343.8,611.2 L347.5,618.8 L352.5,626.2 L355.5,629.5 L360.0,627.5 L364.5,625.0 L367.5,625.0 L371.2,620.0 L376.2,616.2 L379.5,623.8 L382.5,628.8 L385.0,636.2 L387.5,633.8 L390.0,636.2 L393.0,628.8 L395.0,630.5 L398.8,626.2 L402.5,633.8 L406.2,637.5 L411.2,647.0 L415.0,642.5 L417.5,643.8 L421.2,642.5 L424.5,621.2 L428.8,631.2 L431.2,636.2 L437.0,627.5 L441.2,626.2 L446.2,618.8 L450.0,617.0 L453.8,616.2 L458.0,625.0 L462.5,629.5 L468.0,643.8 L472.5,643.8 L477.5,642.0 L482.0,632.5 L485.5,636.2 L488.8,637.0 L495.0,647.5 L497.5,645.5 L501.2,650.8 L503.8,647.0 L507.0,654.5 L512.5,644.5 L515.5,645.5 L518.8,657.0 L521.2,657.5 L523.8,642.5 L527.0,634.5 L529.5,637.0 L535.0,633.8 L538.0,621.2 L541.2,630.5 L543.8,630.5 L546.2,633.8 L550.0,631.2 L553.8,630.5 L558.0,625.5 L561.2,633.0 L563.8,634.2 L567.0,632.5 L570.5,624.2 L573.8,629.5 L577.5,625.5 L581.2,622.5 L583.8,625.0 L587.5,630.8 L590.0,630.0 L593.8,631.2 L596.2,628.8 L601.2,617.5 L607.5,609.2 L611.2,611.2 L616.2,604.2 L618.8,603.8 L622.5,613.0 L625.0,610.0 L628.0,600.0 L631.2,597.5 L640.0,585.8 L643.0,597.0 L647.0,597.5 L650.0,602.0 L652.5,612.5 L654.5,625.0 L657.0,619.5 L660.0,628.0 L663.0,608.2 L666.2,608.2 L668.8,599.5 L671.2,611.2 L674.5,612.0 L677.5,617.5 L681.2,625.0 L683.8,626.2 L687.5,621.2 L691.2,615.5 L694.5,619.2" stroke="#7a68c2" stroke-width="1.5" fill="none" stroke-linejoin="round"/>
</g>
<text x="19.0" y="61.5" font-size="11.6" fill="#2b2b2b" textLength="38.6" lengthAdjust="spacingAndGlyphs">450.00</text>
<text x="19.0" y="94.3" font-size="11.6" fill="#2b2b2b" textLength="38.6" lengthAdjust="spacingAndGlyphs">425.00</text>
<text x="19.0" y="127.1" font-size="11.6" fill="#2b2b2b" textLength="38.6" lengthAdjust="spacingAndGlyphs">400.00</text>
<text x="19.0" y="159.9" font-size="11.6" fill="#2b2b2b" textLength="38.6" lengthAdjust="spacingAndGlyphs">375.00</text>
<text x="19.0" y="192.7" font-size="11.6" fill="#2b2b2b" textLength="38.6" lengthAdjust="spacingAndGlyphs">350.00</text>
<text x="19.0" y="225.4" font-size="11.6" fill="#2b2b2b" textLength="38.6" lengthAdjust="spacingAndGlyphs">325.00</text>
<text x="19.0" y="258.2" font-size="11.6" fill="#2b2b2b" textLength="38.6" lengthAdjust="spacingAndGlyphs">300.00</text>
<text x="19.0" y="291.0" font-size="11.6" fill="#2b2b2b" textLength="38.6" lengthAdjust="spacingAndGlyphs">275.00</text>
<text x="19.0" y="323.8" font-size="11.6" fill="#2b2b2b" textLength="38.6" lengthAdjust="spacingAndGlyphs">250.00</text>
<text x="19.0" y="356.6" font-size="11.6" fill="#2b2b2b" textLength="38.6" lengthAdjust="spacingAndGlyphs">225.00</text>
<text x="19.0" y="389.4" font-size="11.6" fill="#2b2b2b" textLength="38.6" lengthAdjust="spacingAndGlyphs">200.00</text>
<text x="19.0" y="422.1" font-size="11.6" fill="#2b2b2b" textLength="38.6" lengthAdjust="spacingAndGlyphs">175.00</text>
<text x="19.0" y="454.9" font-size="11.6" fill="#2b2b2b" textLength="38.6" lengthAdjust="spacingAndGlyphs">150.00</text>
<text x="19.0" y="487.7" font-size="11.6" fill="#2b2b2b" textLength="38.6" lengthAdjust="spacingAndGlyphs">125.00</text>
<text x="19.0" y="520.5" font-size="11.6" fill="#2b2b2b" textLength="38.6" lengthAdjust="spacingAndGlyphs">100.00</text>
<text x="26.6" y="553.3" font-size="11.6" fill="#2b2b2b" textLength="31.0" lengthAdjust="spacingAndGlyphs">75.00</text>
<rect x="13.3" y="179.1" width="52.4" height="16.4" fill="#f20d0d"/><text x="19.2" y="191.5" font-size="11.6" fill="#fff" textLength="38.4" lengthAdjust="spacingAndGlyphs">350.89</text>
<rect x="13.3" y="217.8" width="52.4" height="15.9" fill="#808080"/><text x="19.2" y="229.9" font-size="11.6" fill="#fff" textLength="38.4" lengthAdjust="spacingAndGlyphs">321.04</text>
<rect x="13.3" y="233.7" width="52.4" height="16.3" fill="#ff8c19"/><text x="19.2" y="246.0" font-size="11.6" fill="#fff" textLength="38.4" lengthAdjust="spacingAndGlyphs">302.57</text>
<rect x="13.3" y="250" width="52.4" height="16.0" fill="#808080"/><text x="19.2" y="262.2" font-size="11.6" fill="#fff" textLength="38.4" lengthAdjust="spacingAndGlyphs">287.65</text>
<rect x="13.3" y="266" width="52.4" height="16.2" fill="#808080"/><text x="19.2" y="278.3" font-size="11.6" fill="#fff" textLength="38.4" lengthAdjust="spacingAndGlyphs">272.72</text>
<rect x="13.3" y="312" width="52.4" height="16.1" fill="#808080"/><text x="19.2" y="324.2" font-size="11.6" fill="#fff" textLength="38.4" lengthAdjust="spacingAndGlyphs">254.25</text>
<rect x="13.3" y="345" width="52.4" height="16.0" fill="#f517f5"/><text x="19.2" y="357.2" font-size="11.6" fill="#fff" textLength="38.4" lengthAdjust="spacingAndGlyphs">224.40</text>
<rect x="13.3" y="383.9" width="52.4" height="16.1" fill="#808080"/><text x="19.2" y="396.1" font-size="11.6" fill="#fff" textLength="38.4" lengthAdjust="spacingAndGlyphs">194.55</text>
<rect x="13.3" y="408.4" width="52.4" height="16.0" fill="#808080"/><text x="19.2" y="420.6" font-size="11.6" fill="#fff" textLength="38.4" lengthAdjust="spacingAndGlyphs">176.08</text>
<rect x="13.3" y="428" width="52.4" height="16.0" fill="#808080"/><text x="19.2" y="440.2" font-size="11.6" fill="#fff" textLength="38.4" lengthAdjust="spacingAndGlyphs">161.15</text>
<rect x="13.3" y="447.8" width="52.4" height="16.2" fill="#ff8c19"/><text x="19.2" y="460.1" font-size="11.6" fill="#fff" textLength="38.4" lengthAdjust="spacingAndGlyphs">146.23</text>
<rect x="13.3" y="471.6" width="52.4" height="15.7" fill="#808080"/><text x="19.2" y="483.7" font-size="11.6" fill="#fff" textLength="38.4" lengthAdjust="spacingAndGlyphs">127.76</text>
<rect x="21" y="510.6" width="44.7" height="15.8" fill="#1a8a1a"/><text x="27.0" y="522.7" font-size="11.6" fill="#fff" textLength="30.6" lengthAdjust="spacingAndGlyphs">97.91</text>
<rect x="13.3" y="282.2" width="52.4" height="29.8" rx="2" fill="#f23645"/>
<text x="19.2" y="294.4" font-size="12" fill="#fff" textLength="38.4" lengthAdjust="spacingAndGlyphs">272.13</text>
<text x="27.3" y="307.6" font-size="12" fill="#ffd6da" textLength="30.3" lengthAdjust="spacingAndGlyphs">20:08</text>
<rect x="67.2" y="282.4" width="61.5" height="15.8" rx="2" fill="#f23645"/>
<text x="71.3" y="294.4" font-size="11.5" fill="#fff" textLength="51.7" lengthAdjust="spacingAndGlyphs">ZECUSDT</text>
<rect x="12" y="27" width="52" height="30" fill="#fff"/>
<rect x="13.2" y="29.2" width="48.8" height="23.6" rx="3" fill="#fff" stroke="#f3f3f5" stroke-width="1"/>
<text x="22.5" y="45.6" font-size="11.5" fill="#2b2b2b" textLength="29" lengthAdjust="spacingAndGlyphs">USDT</text>
<text x="74.7" y="44.6" font-size="12" fill="#2b2b2b" stroke="#2b2b2b" stroke-width="0.18" textLength="32.5" lengthAdjust="spacingAndGlyphs">Zcash</text>
<text x="111.6" y="44.6" font-size="12" fill="#2b2b2b" stroke="#2b2b2b" stroke-width="0.18" textLength="3.6" lengthAdjust="spacingAndGlyphs">/</text>
<text x="118.4" y="44.6" font-size="12" fill="#2b2b2b" stroke="#2b2b2b" stroke-width="0.18" textLength="48.8" lengthAdjust="spacingAndGlyphs">TetherUS</text>
<text x="170.4" y="44.6" font-size="12" fill="#2b2b2b" stroke="#2b2b2b" stroke-width="0.18" textLength="3.0" lengthAdjust="spacingAndGlyphs">·</text>
<text x="177.3" y="44.6" font-size="12" fill="#2b2b2b" stroke="#2b2b2b" stroke-width="0.18" textLength="13.5" lengthAdjust="spacingAndGlyphs">2h</text>
<text x="194.0" y="44.6" font-size="12" fill="#2b2b2b" stroke="#2b2b2b" stroke-width="0.18" textLength="3.0" lengthAdjust="spacingAndGlyphs">·</text>
<text x="200.9" y="44.6" font-size="12" fill="#2b2b2b" stroke="#2b2b2b" stroke-width="0.18" textLength="41.4" lengthAdjust="spacingAndGlyphs">Binance</text>
<text x="251" y="44.6" font-size="12" fill="#2b2b2b" stroke="#2b2b2b" stroke-width="0.18" textLength="8.6" lengthAdjust="spacingAndGlyphs">O</text>
<text x="259.9" y="44.6" font-size="12" fill="#e8414f" stroke="#e8414f" stroke-width="0.18" textLength="36.3" lengthAdjust="spacingAndGlyphs">276.66</text>
<text x="304" y="44.6" font-size="12" fill="#2b2b2b" stroke="#2b2b2b" stroke-width="0.18" textLength="8.0" lengthAdjust="spacingAndGlyphs">H</text>
<text x="312.3" y="44.6" font-size="12" fill="#e8414f" stroke="#e8414f" stroke-width="0.18" textLength="35.6" lengthAdjust="spacingAndGlyphs">281.05</text>
<text x="354.8" y="44.6" font-size="12" fill="#2b2b2b" stroke="#2b2b2b" stroke-width="0.18" textLength="6.3" lengthAdjust="spacingAndGlyphs">L</text>
<text x="361.9" y="44.6" font-size="12" fill="#e8414f" stroke="#e8414f" stroke-width="0.18" textLength="32.2" lengthAdjust="spacingAndGlyphs">271.15</text>
<text x="401.7" y="44.6" font-size="12" fill="#2b2b2b" stroke="#2b2b2b" stroke-width="0.18" textLength="8.0" lengthAdjust="spacingAndGlyphs">C</text>
<text x="410.1" y="44.6" font-size="12" fill="#e8414f" stroke="#e8414f" stroke-width="0.18" textLength="34.8" lengthAdjust="spacingAndGlyphs">272.13</text>
<text x="452.5" y="44.6" font-size="12" fill="#e8414f" stroke="#e8414f" stroke-width="0.18" textLength="81.8" lengthAdjust="spacingAndGlyphs">−4.52 (−1.63%)</text>
<text x="74.7" y="61" font-size="12" fill="#2b2b2b" stroke="#2b2b2b" stroke-width="0.18" textLength="40.4" lengthAdjust="spacingAndGlyphs">Volume</text>
<text x="118.4" y="61" font-size="12" fill="#2b2b2b" stroke="#2b2b2b" stroke-width="0.18" textLength="34.4" lengthAdjust="spacingAndGlyphs">Profile</text>
<text x="156" y="61" font-size="12" fill="#2b2b2b" stroke="#2b2b2b" stroke-width="0.18" textLength="76.0" lengthAdjust="spacingAndGlyphs">Bar-Magnified</text>
<text x="235.2" y="61" font-size="12" fill="#2b2b2b" stroke="#2b2b2b" stroke-width="0.18" textLength="31.0" lengthAdjust="spacingAndGlyphs">Order</text>
<text x="269.5" y="61" font-size="12" fill="#2b2b2b" stroke="#2b2b2b" stroke-width="0.18" textLength="36.0" lengthAdjust="spacingAndGlyphs">Blocks</text>
<text x="309" y="61" font-size="12" fill="#2b2b2b" stroke="#2b2b2b" stroke-width="0.18" textLength="85.6" lengthAdjust="spacingAndGlyphs">[JacobMagleby]</text>
<text x="399.7" y="61" font-size="12" fill="#2b2b2b" stroke="#2b2b2b" stroke-width="0.18" textLength="29.2" lengthAdjust="spacingAndGlyphs">(7, 10,</text>
<text x="433.5" y="61" font-size="12" fill="#2b2b2b" stroke="#2b2b2b" stroke-width="0.18" textLength="29.2" lengthAdjust="spacingAndGlyphs">Close</text>
<text x="467.2" y="61" font-size="12" fill="#2b2b2b" stroke="#2b2b2b" stroke-width="0.18" textLength="39.9" lengthAdjust="spacingAndGlyphs">Engulfs</text>
<text x="510.5" y="61" font-size="12" fill="#2b2b2b" stroke="#2b2b2b" stroke-width="0.18" textLength="29.8" lengthAdjust="spacingAndGlyphs">100%</text>
<text x="544.5" y="61" font-size="12" fill="#2b2b2b" stroke="#2b2b2b" stroke-width="0.18" textLength="10.6" lengthAdjust="spacingAndGlyphs">Of</text>
<text x="559.7" y="61" font-size="12" fill="#2b2b2b" stroke="#2b2b2b" stroke-width="0.18" textLength="30.4" lengthAdjust="spacingAndGlyphs">Order</text>
<text x="595.2" y="61" font-size="12" fill="#2b2b2b" stroke="#2b2b2b" stroke-width="0.18" textLength="32.5" lengthAdjust="spacingAndGlyphs">Block)</text>
<text x="74.7" y="77.2" font-size="12" fill="#2b2b2b" stroke="#2b2b2b" stroke-width="0.18" textLength="96.5" lengthAdjust="spacingAndGlyphs">FBB (200, hlc3, 3)</text>
<text x="179.3" y="77.2" font-size="12" fill="#e020e0" stroke="#e020e0" stroke-width="0.18" textLength="36.9" lengthAdjust="spacingAndGlyphs">224.40</text>
<text x="223.8" y="77.2" font-size="12" fill="#8a8a8a" stroke="#8a8a8a" stroke-width="0.18" textLength="36.8" lengthAdjust="spacingAndGlyphs">254.25</text>
<text x="268.2" y="77.2" font-size="12" fill="#8a8a8a" stroke="#8a8a8a" stroke-width="0.18" textLength="35.8" lengthAdjust="spacingAndGlyphs">272.72</text>
<text x="311.6" y="77.2" font-size="12" fill="#8a8a8a" stroke="#8a8a8a" stroke-width="0.18" textLength="35.5" lengthAdjust="spacingAndGlyphs">287.65</text>
<text x="354.8" y="77.2" font-size="12" fill="#f59a23" stroke="#f59a23" stroke-width="0.18" textLength="36.8" lengthAdjust="spacingAndGlyphs">302.57</text>
<text x="399.2" y="77.2" font-size="12" fill="#8a8a8a" stroke="#8a8a8a" stroke-width="0.18" textLength="35.5" lengthAdjust="spacingAndGlyphs">321.04</text>
<text x="441.9" y="77.2" font-size="12" fill="#e8222a" stroke="#e8222a" stroke-width="0.18" textLength="38.1" lengthAdjust="spacingAndGlyphs">350.89</text>
<text x="487.6" y="77.2" font-size="12" fill="#8a8a8a" stroke="#8a8a8a" stroke-width="0.18" textLength="34.8" lengthAdjust="spacingAndGlyphs">194.55</text>
<text x="530.5" y="77.2" font-size="12" fill="#8a8a8a" stroke="#8a8a8a" stroke-width="0.18" textLength="35.0" lengthAdjust="spacingAndGlyphs">176.08</text>
<text x="573.1" y="77.2" font-size="12" fill="#8a8a8a" stroke="#8a8a8a" stroke-width="0.18" textLength="31.5" lengthAdjust="spacingAndGlyphs">161.15</text>
<text x="612.2" y="77.2" font-size="12" fill="#f59a23" stroke="#f59a23" stroke-width="0.18" textLength="35.8" lengthAdjust="spacingAndGlyphs">146.23</text>
<text x="655.4" y="77.2" font-size="12" fill="#8a8a8a" stroke="#8a8a8a" stroke-width="0.18" textLength="33.8" lengthAdjust="spacingAndGlyphs">127.76</text>
<text x="696" y="77.2" font-size="12" fill="#1a8a1a" stroke="#1a8a1a" stroke-width="0.18" textLength="27.5" lengthAdjust="spacingAndGlyphs">97.91</text>
<text x="74.3" y="584.6" font-size="12" fill="#2b2b2b" stroke="#2b2b2b" stroke-width="0.18" textLength="75.9" lengthAdjust="spacingAndGlyphs">RSI (14, close)</text>
<text x="158.8" y="584.6" font-size="12" fill="#7e57c2" stroke="#7e57c2" stroke-width="0.18" textLength="30.0" lengthAdjust="spacingAndGlyphs">55.93</text>
<text x="196.8" y="584.6" font-size="12" fill="#f0d54a" stroke="#f0d54a" stroke-width="0.18" textLength="30.0" lengthAdjust="spacingAndGlyphs">58.05</text>
<text x="973.9" y="588.6" font-size="12" fill="#2b2b2b" stroke="#2b2b2b" stroke-width="0.18" textLength="31.6" lengthAdjust="spacingAndGlyphs">80.00</text>
<text x="973.9" y="646.9" font-size="12" fill="#2b2b2b" stroke="#2b2b2b" stroke-width="0.18" textLength="31.6" lengthAdjust="spacingAndGlyphs">40.00</text>
<rect x="966" y="595.4" width="44.8" height="16.4" rx="2" fill="#fdd835"/>
<text x="973.9" y="607.9" font-size="12" fill="#2b2b2b" stroke="#2b2b2b" stroke-width="0.18" textLength="31.6" lengthAdjust="spacingAndGlyphs">58.05</text>
<rect x="966" y="611.8" width="44.8" height="16" rx="2" fill="#7e57c2"/>
<text x="973.9" y="624" font-size="12" fill="#fff" stroke="#fff" stroke-width="0.18" textLength="31.6" lengthAdjust="spacingAndGlyphs">55.93</text>
<text x="88.2" y="685" font-size="11.7" fill="#2b2b2b" text-anchor="middle">5</text>
<text x="157.9" y="685" font-size="11.7" fill="#2b2b2b" text-anchor="middle">7</text>
<text x="227.6" y="685" font-size="11.7" fill="#2b2b2b" text-anchor="middle">9</text>
<text x="297.3" y="685" font-size="11.7" fill="#2b2b2b" text-anchor="middle">11</text>
<text x="367" y="685" font-size="11.7" fill="#2b2b2b" text-anchor="middle" font-weight="bold">13</text>
<text x="436.7" y="685" font-size="11.7" fill="#2b2b2b" text-anchor="middle">15</text>
<text x="506.3" y="685" font-size="11.7" fill="#2b2b2b" text-anchor="middle">17</text>
<text x="576" y="685" font-size="11.7" fill="#2b2b2b" text-anchor="middle">19</text>
<text x="645.7" y="685" font-size="11.7" fill="#2b2b2b" text-anchor="middle">21</text>
<text x="715.4" y="685" font-size="11.7" fill="#2b2b2b" text-anchor="middle">23</text>
<text x="785.3" y="685" font-size="11.7" fill="#2b2b2b" text-anchor="middle">25</text>
<text x="857.6" y="685" font-size="11.7" fill="#2b2b2b" text-anchor="middle" font-weight="bold">27</text>
<text x="927.4" y="685" font-size="11.7" fill="#2b2b2b" text-anchor="middle">29</text>
<circle cx="38.6" cy="681.3" r="8.6" fill="#f2f2f4"/>
<text x="38.6" y="685" font-size="10" fill="#555" text-anchor="middle">Z</text>
<circle cx="990" cy="681.3" r="8.6" fill="#f2f2f4"/>
<text x="990" y="685" font-size="10" fill="#555" text-anchor="middle">A</text>
<path d="M11.4,715H22.9V728.7H17V720.1H11.4z" fill="#131313"/>
<circle cx="27.6" cy="717.6" r="2.65" fill="#131313"/>
<path d="M33.1,715H39.6L34,728.7H28.1z" fill="#131313"/>
<text x="47.2" y="728.1" font-size="19" fill="#131313" stroke="#131313" stroke-width="0.85" textLength="114.5" lengthAdjust="spacingAndGlyphs">TradingView</text>
</svg>
</body></html>
